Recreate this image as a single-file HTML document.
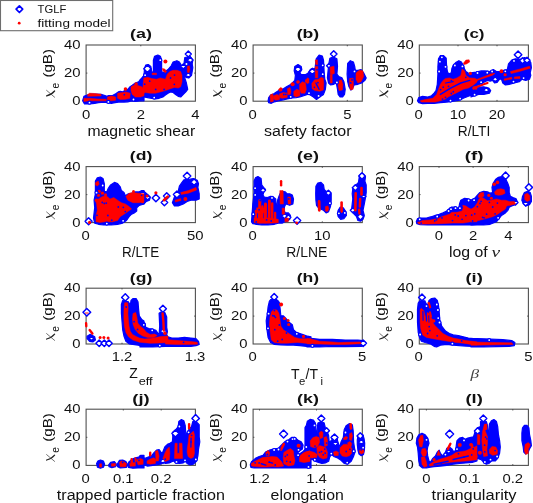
<!DOCTYPE html>
<html><head><meta charset="utf-8"><style>
html,body{margin:0;padding:0;background:#fff;overflow:hidden;}
svg{display:block;will-change:transform;}
text{font-family:"Liberation Sans", sans-serif;fill:#111;}
</style></head><body>
<svg width="533" height="503" viewBox="0 0 533 503">
<rect width="533" height="503" fill="#fff"/>
<rect x="86.1" y="45.0" width="109.30" height="56.20" fill="none" stroke="#505050" stroke-width="1.1"/>
<text x="80.50" y="49.00" font-size="13.3" text-anchor="end" textLength="16.54" lengthAdjust="spacingAndGlyphs">40</text>
<line x1="86.1" y1="73.10" x2="87.39999999999999" y2="73.10" stroke="#333" stroke-width="0.8"/>
<line x1="195.4" y1="73.10" x2="194.1" y2="73.10" stroke="#333" stroke-width="0.8"/>
<text x="80.50" y="77.10" font-size="13.3" text-anchor="end" textLength="16.54" lengthAdjust="spacingAndGlyphs">20</text>
<text x="80.50" y="105.20" font-size="13.3" text-anchor="end" textLength="8.27" lengthAdjust="spacingAndGlyphs">0</text>
<text x="86.20" y="118.50" font-size="13.3" text-anchor="middle" textLength="8.27" lengthAdjust="spacingAndGlyphs">0</text>
<line x1="140.8" y1="101.2" x2="140.8" y2="99.9" stroke="#333" stroke-width="0.8"/>
<line x1="140.8" y1="45.0" x2="140.8" y2="46.3" stroke="#333" stroke-width="0.8"/>
<text x="140.80" y="118.50" font-size="13.3" text-anchor="middle" textLength="8.27" lengthAdjust="spacingAndGlyphs">2</text>
<text x="195.40" y="118.50" font-size="13.3" text-anchor="middle" textLength="8.27" lengthAdjust="spacingAndGlyphs">4</text>
<text x="141.05" y="38.30" font-size="13.3" text-anchor="middle" font-weight="bold" textLength="21.93" lengthAdjust="spacingAndGlyphs">(a)</text>
<text transform="translate(51.60,77.60) rotate(-90)" font-size="13.3" textLength="28.6" lengthAdjust="spacingAndGlyphs">(gB)</text>
<text transform="translate(58.60,88.60) rotate(-90)" font-size="10.2">e</text>
<path d="M46.60,95.80 C49.50,95.20 52.50,93.60 54.60,91.00" fill="none" stroke="#222" stroke-width="1.25" stroke-linecap="round"/>
<path d="M46.60,90.40 L54.60,97.20" fill="none" stroke="#444" stroke-width="0.75" stroke-linecap="round"/>
<text x="141.30" y="135.70" font-size="14.0" text-anchor="middle" textLength="107.67" lengthAdjust="spacingAndGlyphs">magnetic shear</text>
<rect x="253.1" y="45.0" width="109.20" height="56.20" fill="none" stroke="#505050" stroke-width="1.1"/>
<text x="247.50" y="49.00" font-size="13.3" text-anchor="end" textLength="16.54" lengthAdjust="spacingAndGlyphs">40</text>
<line x1="253.1" y1="73.10" x2="254.4" y2="73.10" stroke="#333" stroke-width="0.8"/>
<line x1="362.3" y1="73.10" x2="361.0" y2="73.10" stroke="#333" stroke-width="0.8"/>
<text x="247.50" y="77.10" font-size="13.3" text-anchor="end" textLength="16.54" lengthAdjust="spacingAndGlyphs">20</text>
<text x="247.50" y="105.20" font-size="13.3" text-anchor="end" textLength="8.27" lengthAdjust="spacingAndGlyphs">0</text>
<text x="252.60" y="118.50" font-size="13.3" text-anchor="middle" textLength="8.27" lengthAdjust="spacingAndGlyphs">0</text>
<line x1="347.3" y1="101.2" x2="347.3" y2="99.9" stroke="#333" stroke-width="0.8"/>
<line x1="347.3" y1="45.0" x2="347.3" y2="46.3" stroke="#333" stroke-width="0.8"/>
<text x="347.30" y="118.50" font-size="13.3" text-anchor="middle" textLength="8.27" lengthAdjust="spacingAndGlyphs">5</text>
<text x="308.00" y="38.30" font-size="13.3" text-anchor="middle" font-weight="bold" textLength="22.49" lengthAdjust="spacingAndGlyphs">(b)</text>
<text transform="translate(218.60,77.60) rotate(-90)" font-size="13.3" textLength="28.6" lengthAdjust="spacingAndGlyphs">(gB)</text>
<text transform="translate(225.60,88.60) rotate(-90)" font-size="10.2">e</text>
<path d="M213.60,95.80 C216.50,95.20 219.50,93.60 221.60,91.00" fill="none" stroke="#222" stroke-width="1.25" stroke-linecap="round"/>
<path d="M213.60,90.40 L221.60,97.20" fill="none" stroke="#444" stroke-width="0.75" stroke-linecap="round"/>
<text x="307.80" y="135.70" font-size="14.0" text-anchor="middle" textLength="87.39" lengthAdjust="spacingAndGlyphs">safety factor</text>
<rect x="419.3" y="45.0" width="109.10" height="56.20" fill="none" stroke="#505050" stroke-width="1.1"/>
<text x="413.70" y="49.00" font-size="13.3" text-anchor="end" textLength="16.54" lengthAdjust="spacingAndGlyphs">40</text>
<line x1="419.3" y1="73.10" x2="420.6" y2="73.10" stroke="#333" stroke-width="0.8"/>
<line x1="528.4" y1="73.10" x2="527.1" y2="73.10" stroke="#333" stroke-width="0.8"/>
<text x="413.70" y="77.10" font-size="13.3" text-anchor="end" textLength="16.54" lengthAdjust="spacingAndGlyphs">20</text>
<text x="413.70" y="105.20" font-size="13.3" text-anchor="end" textLength="8.27" lengthAdjust="spacingAndGlyphs">0</text>
<text x="418.60" y="118.50" font-size="13.3" text-anchor="middle" textLength="8.27" lengthAdjust="spacingAndGlyphs">0</text>
<line x1="458.0" y1="101.2" x2="458.0" y2="99.9" stroke="#333" stroke-width="0.8"/>
<line x1="458.0" y1="45.0" x2="458.0" y2="46.3" stroke="#333" stroke-width="0.8"/>
<text x="458.00" y="118.50" font-size="13.3" text-anchor="middle" textLength="16.54" lengthAdjust="spacingAndGlyphs">10</text>
<line x1="497.0" y1="101.2" x2="497.0" y2="99.9" stroke="#333" stroke-width="0.8"/>
<line x1="497.0" y1="45.0" x2="497.0" y2="46.3" stroke="#333" stroke-width="0.8"/>
<text x="497.00" y="118.50" font-size="13.3" text-anchor="middle" textLength="16.54" lengthAdjust="spacingAndGlyphs">20</text>
<text x="474.15" y="38.30" font-size="13.3" text-anchor="middle" font-weight="bold" textLength="20.79" lengthAdjust="spacingAndGlyphs">(c)</text>
<text transform="translate(384.80,77.60) rotate(-90)" font-size="13.3" textLength="28.6" lengthAdjust="spacingAndGlyphs">(gB)</text>
<text transform="translate(391.80,88.60) rotate(-90)" font-size="10.2">e</text>
<path d="M379.80,95.80 C382.70,95.20 385.70,93.60 387.80,91.00" fill="none" stroke="#222" stroke-width="1.25" stroke-linecap="round"/>
<path d="M379.80,90.40 L387.80,97.20" fill="none" stroke="#444" stroke-width="0.75" stroke-linecap="round"/>
<text x="474.00" y="135.70" font-size="14.0" text-anchor="middle" textLength="32.53" lengthAdjust="spacingAndGlyphs">R/LTI</text>
<rect x="86.1" y="166.6" width="109.30" height="56.00" fill="none" stroke="#505050" stroke-width="1.1"/>
<text x="80.50" y="170.60" font-size="13.3" text-anchor="end" textLength="16.54" lengthAdjust="spacingAndGlyphs">40</text>
<line x1="86.1" y1="194.60" x2="87.39999999999999" y2="194.60" stroke="#333" stroke-width="0.8"/>
<line x1="195.4" y1="194.60" x2="194.1" y2="194.60" stroke="#333" stroke-width="0.8"/>
<text x="80.50" y="198.60" font-size="13.3" text-anchor="end" textLength="16.54" lengthAdjust="spacingAndGlyphs">20</text>
<text x="80.50" y="226.60" font-size="13.3" text-anchor="end" textLength="8.27" lengthAdjust="spacingAndGlyphs">0</text>
<text x="85.60" y="239.90" font-size="13.3" text-anchor="middle" textLength="8.27" lengthAdjust="spacingAndGlyphs">0</text>
<text x="195.30" y="239.90" font-size="13.3" text-anchor="middle" textLength="16.54" lengthAdjust="spacingAndGlyphs">50</text>
<text x="141.05" y="159.90" font-size="13.3" text-anchor="middle" font-weight="bold" textLength="22.49" lengthAdjust="spacingAndGlyphs">(d)</text>
<text transform="translate(51.60,199.20) rotate(-90)" font-size="13.3" textLength="28.6" lengthAdjust="spacingAndGlyphs">(gB)</text>
<text transform="translate(58.60,210.20) rotate(-90)" font-size="10.2">e</text>
<path d="M46.60,217.40 C49.50,216.80 52.50,215.20 54.60,212.60" fill="none" stroke="#222" stroke-width="1.25" stroke-linecap="round"/>
<path d="M46.60,212.00 L54.60,218.80" fill="none" stroke="#444" stroke-width="0.75" stroke-linecap="round"/>
<text x="140.60" y="257.10" font-size="14.0" text-anchor="middle" textLength="37.18" lengthAdjust="spacingAndGlyphs">R/LTE</text>
<rect x="253.1" y="166.6" width="109.20" height="56.00" fill="none" stroke="#505050" stroke-width="1.1"/>
<text x="247.50" y="170.60" font-size="13.3" text-anchor="end" textLength="16.54" lengthAdjust="spacingAndGlyphs">40</text>
<line x1="253.1" y1="194.60" x2="254.4" y2="194.60" stroke="#333" stroke-width="0.8"/>
<line x1="362.3" y1="194.60" x2="361.0" y2="194.60" stroke="#333" stroke-width="0.8"/>
<text x="247.50" y="198.60" font-size="13.3" text-anchor="end" textLength="16.54" lengthAdjust="spacingAndGlyphs">20</text>
<text x="247.50" y="226.60" font-size="13.3" text-anchor="end" textLength="8.27" lengthAdjust="spacingAndGlyphs">0</text>
<text x="252.60" y="239.90" font-size="13.3" text-anchor="middle" textLength="8.27" lengthAdjust="spacingAndGlyphs">0</text>
<line x1="322.3" y1="222.6" x2="322.3" y2="221.29999999999998" stroke="#333" stroke-width="0.8"/>
<line x1="322.3" y1="166.6" x2="322.3" y2="167.9" stroke="#333" stroke-width="0.8"/>
<text x="322.30" y="239.90" font-size="13.3" text-anchor="middle" textLength="16.54" lengthAdjust="spacingAndGlyphs">10</text>
<text x="308.00" y="159.90" font-size="13.3" text-anchor="middle" font-weight="bold" textLength="21.97" lengthAdjust="spacingAndGlyphs">(e)</text>
<text transform="translate(218.60,199.20) rotate(-90)" font-size="13.3" textLength="28.6" lengthAdjust="spacingAndGlyphs">(gB)</text>
<text transform="translate(225.60,210.20) rotate(-90)" font-size="10.2">e</text>
<path d="M213.60,217.40 C216.50,216.80 219.50,215.20 221.60,212.60" fill="none" stroke="#222" stroke-width="1.25" stroke-linecap="round"/>
<path d="M213.60,212.00 L221.60,218.80" fill="none" stroke="#444" stroke-width="0.75" stroke-linecap="round"/>
<text x="306.80" y="257.10" font-size="14.0" text-anchor="middle" textLength="40.97" lengthAdjust="spacingAndGlyphs">R/LNE</text>
<rect x="419.3" y="166.6" width="109.10" height="56.00" fill="none" stroke="#505050" stroke-width="1.1"/>
<text x="413.70" y="170.60" font-size="13.3" text-anchor="end" textLength="16.54" lengthAdjust="spacingAndGlyphs">40</text>
<line x1="419.3" y1="194.60" x2="420.6" y2="194.60" stroke="#333" stroke-width="0.8"/>
<line x1="528.4" y1="194.60" x2="527.1" y2="194.60" stroke="#333" stroke-width="0.8"/>
<text x="413.70" y="198.60" font-size="13.3" text-anchor="end" textLength="16.54" lengthAdjust="spacingAndGlyphs">20</text>
<text x="413.70" y="226.60" font-size="13.3" text-anchor="end" textLength="8.27" lengthAdjust="spacingAndGlyphs">0</text>
<line x1="439.0" y1="222.6" x2="439.0" y2="221.29999999999998" stroke="#333" stroke-width="0.8"/>
<line x1="439.0" y1="166.6" x2="439.0" y2="167.9" stroke="#333" stroke-width="0.8"/>
<text x="439.00" y="239.90" font-size="13.3" text-anchor="middle" textLength="8.27" lengthAdjust="spacingAndGlyphs">0</text>
<line x1="473.1" y1="222.6" x2="473.1" y2="221.29999999999998" stroke="#333" stroke-width="0.8"/>
<line x1="473.1" y1="166.6" x2="473.1" y2="167.9" stroke="#333" stroke-width="0.8"/>
<text x="473.10" y="239.90" font-size="13.3" text-anchor="middle" textLength="8.27" lengthAdjust="spacingAndGlyphs">2</text>
<line x1="508.3" y1="222.6" x2="508.3" y2="221.29999999999998" stroke="#333" stroke-width="0.8"/>
<line x1="508.3" y1="166.6" x2="508.3" y2="167.9" stroke="#333" stroke-width="0.8"/>
<text x="508.30" y="239.90" font-size="13.3" text-anchor="middle" textLength="8.27" lengthAdjust="spacingAndGlyphs">4</text>
<text x="474.15" y="159.90" font-size="13.3" text-anchor="middle" font-weight="bold" textLength="18.62" lengthAdjust="spacingAndGlyphs">(f)</text>
<text transform="translate(384.80,199.20) rotate(-90)" font-size="13.3" textLength="28.6" lengthAdjust="spacingAndGlyphs">(gB)</text>
<text transform="translate(391.80,210.20) rotate(-90)" font-size="10.2">e</text>
<path d="M379.80,217.40 C382.70,216.80 385.70,215.20 387.80,212.60" fill="none" stroke="#222" stroke-width="1.25" stroke-linecap="round"/>
<path d="M379.80,212.00 L387.80,218.80" fill="none" stroke="#444" stroke-width="0.75" stroke-linecap="round"/>
<text x="449.00" y="257.10" font-size="14.0" textLength="38.72" lengthAdjust="spacingAndGlyphs">log of</text>
<text x="491.40" y="257.10" font-size="14" font-style="italic" textLength="8.6" lengthAdjust="spacingAndGlyphs" style="font-family:'Liberation Serif',serif;fill:#222">ν</text>
<rect x="86.1" y="288.2" width="109.30" height="55.80" fill="none" stroke="#505050" stroke-width="1.1"/>
<text x="80.50" y="292.20" font-size="13.3" text-anchor="end" textLength="16.54" lengthAdjust="spacingAndGlyphs">40</text>
<line x1="86.1" y1="316.10" x2="87.39999999999999" y2="316.10" stroke="#333" stroke-width="0.8"/>
<line x1="195.4" y1="316.10" x2="194.1" y2="316.10" stroke="#333" stroke-width="0.8"/>
<text x="80.50" y="320.10" font-size="13.3" text-anchor="end" textLength="16.54" lengthAdjust="spacingAndGlyphs">20</text>
<text x="80.50" y="348.00" font-size="13.3" text-anchor="end" textLength="8.27" lengthAdjust="spacingAndGlyphs">0</text>
<line x1="122.0" y1="344.0" x2="122.0" y2="342.7" stroke="#333" stroke-width="0.8"/>
<line x1="122.0" y1="288.2" x2="122.0" y2="289.5" stroke="#333" stroke-width="0.8"/>
<text x="122.00" y="361.30" font-size="13.3" text-anchor="middle" textLength="20.67" lengthAdjust="spacingAndGlyphs">1.2</text>
<text x="195.00" y="361.30" font-size="13.3" text-anchor="middle" textLength="20.67" lengthAdjust="spacingAndGlyphs">1.3</text>
<text x="141.05" y="281.50" font-size="13.3" text-anchor="middle" font-weight="bold" textLength="22.49" lengthAdjust="spacingAndGlyphs">(g)</text>
<text transform="translate(51.60,320.80) rotate(-90)" font-size="13.3" textLength="28.6" lengthAdjust="spacingAndGlyphs">(gB)</text>
<text transform="translate(58.60,331.80) rotate(-90)" font-size="10.2">e</text>
<path d="M46.60,339.00 C49.50,338.40 52.50,336.80 54.60,334.20" fill="none" stroke="#222" stroke-width="1.25" stroke-linecap="round"/>
<path d="M46.60,333.60 L54.60,340.40" fill="none" stroke="#444" stroke-width="0.75" stroke-linecap="round"/>
<text x="129.30" y="377.90" font-size="14.0">Z</text>
<text x="138.70" y="384.50" font-size="11.4" textLength="13.9" lengthAdjust="spacingAndGlyphs">eff</text>
<rect x="253.1" y="288.2" width="109.20" height="55.80" fill="none" stroke="#505050" stroke-width="1.1"/>
<text x="247.50" y="292.20" font-size="13.3" text-anchor="end" textLength="16.54" lengthAdjust="spacingAndGlyphs">40</text>
<line x1="253.1" y1="316.10" x2="254.4" y2="316.10" stroke="#333" stroke-width="0.8"/>
<line x1="362.3" y1="316.10" x2="361.0" y2="316.10" stroke="#333" stroke-width="0.8"/>
<text x="247.50" y="320.10" font-size="13.3" text-anchor="end" textLength="16.54" lengthAdjust="spacingAndGlyphs">20</text>
<text x="247.50" y="348.00" font-size="13.3" text-anchor="end" textLength="8.27" lengthAdjust="spacingAndGlyphs">0</text>
<text x="252.60" y="361.30" font-size="13.3" text-anchor="middle" textLength="8.27" lengthAdjust="spacingAndGlyphs">0</text>
<text x="362.20" y="361.30" font-size="13.3" text-anchor="middle" textLength="8.27" lengthAdjust="spacingAndGlyphs">5</text>
<text x="308.00" y="281.50" font-size="13.3" text-anchor="middle" font-weight="bold" textLength="22.44" lengthAdjust="spacingAndGlyphs">(h)</text>
<text transform="translate(218.60,320.80) rotate(-90)" font-size="13.3" textLength="28.6" lengthAdjust="spacingAndGlyphs">(gB)</text>
<text transform="translate(225.60,331.80) rotate(-90)" font-size="10.2">e</text>
<path d="M213.60,339.00 C216.50,338.40 219.50,336.80 221.60,334.20" fill="none" stroke="#222" stroke-width="1.25" stroke-linecap="round"/>
<path d="M213.60,333.60 L221.60,340.40" fill="none" stroke="#444" stroke-width="0.75" stroke-linecap="round"/>
<text x="291.00" y="378.50" font-size="14.0">T</text>
<text x="299.10" y="384.50" font-size="11.3">e</text>
<text x="305.60" y="378.50" font-size="14.0">/T</text>
<text x="320.40" y="384.50" font-size="11.3">i</text>
<rect x="419.3" y="288.2" width="109.10" height="55.80" fill="none" stroke="#505050" stroke-width="1.1"/>
<text x="413.70" y="292.20" font-size="13.3" text-anchor="end" textLength="16.54" lengthAdjust="spacingAndGlyphs">40</text>
<line x1="419.3" y1="316.10" x2="420.6" y2="316.10" stroke="#333" stroke-width="0.8"/>
<line x1="528.4" y1="316.10" x2="527.1" y2="316.10" stroke="#333" stroke-width="0.8"/>
<text x="413.70" y="320.10" font-size="13.3" text-anchor="end" textLength="16.54" lengthAdjust="spacingAndGlyphs">20</text>
<text x="413.70" y="348.00" font-size="13.3" text-anchor="end" textLength="8.27" lengthAdjust="spacingAndGlyphs">0</text>
<text x="418.60" y="361.30" font-size="13.3" text-anchor="middle" textLength="8.27" lengthAdjust="spacingAndGlyphs">0</text>
<text x="528.40" y="361.30" font-size="13.3" text-anchor="middle" textLength="8.27" lengthAdjust="spacingAndGlyphs">5</text>
<text x="474.15" y="281.50" font-size="13.3" text-anchor="middle" font-weight="bold" textLength="17.34" lengthAdjust="spacingAndGlyphs">(i)</text>
<text transform="translate(384.80,320.80) rotate(-90)" font-size="13.3" textLength="28.6" lengthAdjust="spacingAndGlyphs">(gB)</text>
<text transform="translate(391.80,331.80) rotate(-90)" font-size="10.2">e</text>
<path d="M379.80,339.00 C382.70,338.40 385.70,336.80 387.80,334.20" fill="none" stroke="#222" stroke-width="1.25" stroke-linecap="round"/>
<path d="M379.80,333.60 L387.80,340.40" fill="none" stroke="#444" stroke-width="0.75" stroke-linecap="round"/>
<text x="474.90" y="377.80" font-size="13.5" text-anchor="middle" font-style="italic" textLength="8.6" lengthAdjust="spacingAndGlyphs" style="font-family:'Liberation Serif',serif;fill:#444">β</text>
<rect x="86.1" y="409.2" width="109.30" height="56.20" fill="none" stroke="#505050" stroke-width="1.1"/>
<text x="80.50" y="413.20" font-size="13.3" text-anchor="end" textLength="16.54" lengthAdjust="spacingAndGlyphs">40</text>
<line x1="86.1" y1="437.30" x2="87.39999999999999" y2="437.30" stroke="#333" stroke-width="0.8"/>
<line x1="195.4" y1="437.30" x2="194.1" y2="437.30" stroke="#333" stroke-width="0.8"/>
<text x="80.50" y="441.30" font-size="13.3" text-anchor="end" textLength="16.54" lengthAdjust="spacingAndGlyphs">20</text>
<text x="80.50" y="469.40" font-size="13.3" text-anchor="end" textLength="8.27" lengthAdjust="spacingAndGlyphs">0</text>
<text x="85.70" y="482.70" font-size="13.3" text-anchor="middle" textLength="8.27" lengthAdjust="spacingAndGlyphs">0</text>
<line x1="123.3" y1="465.4" x2="123.3" y2="464.09999999999997" stroke="#333" stroke-width="0.8"/>
<line x1="123.3" y1="409.2" x2="123.3" y2="410.5" stroke="#333" stroke-width="0.8"/>
<text x="123.30" y="482.70" font-size="13.3" text-anchor="middle" textLength="20.67" lengthAdjust="spacingAndGlyphs">0.1</text>
<line x1="161.2" y1="465.4" x2="161.2" y2="464.09999999999997" stroke="#333" stroke-width="0.8"/>
<line x1="161.2" y1="409.2" x2="161.2" y2="410.5" stroke="#333" stroke-width="0.8"/>
<text x="161.20" y="482.70" font-size="13.3" text-anchor="middle" textLength="20.67" lengthAdjust="spacingAndGlyphs">0.2</text>
<text x="141.05" y="402.50" font-size="13.3" text-anchor="middle" font-weight="bold" textLength="17.34" lengthAdjust="spacingAndGlyphs">(j)</text>
<text transform="translate(51.60,441.80) rotate(-90)" font-size="13.3" textLength="28.6" lengthAdjust="spacingAndGlyphs">(gB)</text>
<text transform="translate(58.60,452.80) rotate(-90)" font-size="10.2">e</text>
<path d="M46.60,460.00 C49.50,459.40 52.50,457.80 54.60,455.20" fill="none" stroke="#222" stroke-width="1.25" stroke-linecap="round"/>
<path d="M46.60,454.60 L54.60,461.40" fill="none" stroke="#444" stroke-width="0.75" stroke-linecap="round"/>
<text x="140.90" y="499.90" font-size="14.0" text-anchor="middle" textLength="168.14" lengthAdjust="spacingAndGlyphs">trapped particle fraction</text>
<rect x="253.1" y="409.2" width="109.20" height="56.20" fill="none" stroke="#505050" stroke-width="1.1"/>
<text x="247.50" y="413.20" font-size="13.3" text-anchor="end" textLength="16.54" lengthAdjust="spacingAndGlyphs">40</text>
<line x1="253.1" y1="437.30" x2="254.4" y2="437.30" stroke="#333" stroke-width="0.8"/>
<line x1="362.3" y1="437.30" x2="361.0" y2="437.30" stroke="#333" stroke-width="0.8"/>
<text x="247.50" y="441.30" font-size="13.3" text-anchor="end" textLength="16.54" lengthAdjust="spacingAndGlyphs">20</text>
<text x="247.50" y="469.40" font-size="13.3" text-anchor="end" textLength="8.27" lengthAdjust="spacingAndGlyphs">0</text>
<line x1="259.5" y1="465.4" x2="259.5" y2="464.09999999999997" stroke="#333" stroke-width="0.8"/>
<line x1="259.5" y1="409.2" x2="259.5" y2="410.5" stroke="#333" stroke-width="0.8"/>
<text x="259.50" y="482.70" font-size="13.3" text-anchor="middle" textLength="20.67" lengthAdjust="spacingAndGlyphs">1.2</text>
<line x1="316.5" y1="465.4" x2="316.5" y2="464.09999999999997" stroke="#333" stroke-width="0.8"/>
<line x1="316.5" y1="409.2" x2="316.5" y2="410.5" stroke="#333" stroke-width="0.8"/>
<text x="316.50" y="482.70" font-size="13.3" text-anchor="middle" textLength="20.67" lengthAdjust="spacingAndGlyphs">1.4</text>
<text x="308.00" y="402.50" font-size="13.3" text-anchor="middle" font-weight="bold" textLength="21.79" lengthAdjust="spacingAndGlyphs">(k)</text>
<text transform="translate(218.60,441.80) rotate(-90)" font-size="13.3" textLength="28.6" lengthAdjust="spacingAndGlyphs">(gB)</text>
<text transform="translate(225.60,452.80) rotate(-90)" font-size="10.2">e</text>
<path d="M213.60,460.00 C216.50,459.40 219.50,457.80 221.60,455.20" fill="none" stroke="#222" stroke-width="1.25" stroke-linecap="round"/>
<path d="M213.60,454.60 L221.60,461.40" fill="none" stroke="#444" stroke-width="0.75" stroke-linecap="round"/>
<text x="307.20" y="499.90" font-size="14.0" text-anchor="middle" textLength="73.16" lengthAdjust="spacingAndGlyphs">elongation</text>
<rect x="419.3" y="409.2" width="109.10" height="56.20" fill="none" stroke="#505050" stroke-width="1.1"/>
<text x="413.70" y="413.20" font-size="13.3" text-anchor="end" textLength="16.54" lengthAdjust="spacingAndGlyphs">40</text>
<line x1="419.3" y1="437.30" x2="420.6" y2="437.30" stroke="#333" stroke-width="0.8"/>
<line x1="528.4" y1="437.30" x2="527.1" y2="437.30" stroke="#333" stroke-width="0.8"/>
<text x="413.70" y="441.30" font-size="13.3" text-anchor="end" textLength="16.54" lengthAdjust="spacingAndGlyphs">20</text>
<text x="413.70" y="469.40" font-size="13.3" text-anchor="end" textLength="8.27" lengthAdjust="spacingAndGlyphs">0</text>
<line x1="426.4" y1="465.4" x2="426.4" y2="464.09999999999997" stroke="#333" stroke-width="0.8"/>
<line x1="426.4" y1="409.2" x2="426.4" y2="410.5" stroke="#333" stroke-width="0.8"/>
<text x="426.40" y="482.70" font-size="13.3" text-anchor="middle" textLength="8.27" lengthAdjust="spacingAndGlyphs">0</text>
<line x1="469.4" y1="465.4" x2="469.4" y2="464.09999999999997" stroke="#333" stroke-width="0.8"/>
<line x1="469.4" y1="409.2" x2="469.4" y2="410.5" stroke="#333" stroke-width="0.8"/>
<text x="469.40" y="482.70" font-size="13.3" text-anchor="middle" textLength="20.67" lengthAdjust="spacingAndGlyphs">0.1</text>
<line x1="512.8" y1="465.4" x2="512.8" y2="464.09999999999997" stroke="#333" stroke-width="0.8"/>
<line x1="512.8" y1="409.2" x2="512.8" y2="410.5" stroke="#333" stroke-width="0.8"/>
<text x="512.80" y="482.70" font-size="13.3" text-anchor="middle" textLength="20.67" lengthAdjust="spacingAndGlyphs">0.2</text>
<text x="474.15" y="402.50" font-size="13.3" text-anchor="middle" font-weight="bold" textLength="17.34" lengthAdjust="spacingAndGlyphs">(l)</text>
<text transform="translate(384.80,441.80) rotate(-90)" font-size="13.3" textLength="28.6" lengthAdjust="spacingAndGlyphs">(gB)</text>
<text transform="translate(391.80,452.80) rotate(-90)" font-size="10.2">e</text>
<path d="M379.80,460.00 C382.70,459.40 385.70,457.80 387.80,455.20" fill="none" stroke="#222" stroke-width="1.25" stroke-linecap="round"/>
<path d="M379.80,454.60 L387.80,461.40" fill="none" stroke="#444" stroke-width="0.75" stroke-linecap="round"/>
<text x="474.10" y="499.90" font-size="14.0" text-anchor="middle" textLength="85.00" lengthAdjust="spacingAndGlyphs">triangularity</text>
<path d="M82.6,100.8 L83.9,96.3 L87.1,95.1 L89.6,94.2 L94.7,94.2 L101.1,94.4 L104.9,95.5 L106.8,96.3 L108.7,95.5 L112.5,95.5 L115.7,93.8 L118.3,91.9 L120.2,91.3 L122.7,91.9 L125.3,90.0 L127.8,89.3 L129.7,87.1 L132.3,85.3 L135.4,83.0 L138.6,81.7 L141.2,79.2 L144.0,76.0 L144.0,100.8 L140.5,100.8 L135.4,101.4 L131.6,100.8 L127.8,101.8 L124.0,102.1 L120.2,101.8 L115.1,102.7 L111.3,103.3 L107.4,102.7 L103.6,102.1 L98.5,102.7 L94.7,103.3 L89.6,104.0 L84.5,104.0Z" fill="#0000ff" stroke="#0000ff" stroke-width="1.2" stroke-linejoin="round"/>
<path d="M140.0,79.8 L141.9,77.9 L143.6,76.0 L144.2,72.8 L144.5,68.4 L145.7,65.2 L148.3,64.5 L150.8,66.4 L151.5,70.3 L152.1,72.8 L153.4,71.5 L153.4,60.1 L154.6,56.3 L157.8,55.0 L160.4,56.3 L161.6,60.1 L161.6,71.5 L163.5,72.8 L168.0,69.6 L171.2,65.8 L173.1,62.0 L176.9,60.7 L179.4,62.0 L181.4,65.2 L183.3,66.4 L183.9,71.5 L184.5,74.1 L184.8,77.9 L186.4,83.0 L187.7,89.3 L185.8,91.9 L183.3,94.4 L180.7,97.0 L178.2,96.3 L175.6,94.4 L173.1,92.5 L170.5,91.9 L168.0,93.2 L165.4,95.1 L162.9,97.0 L159.1,98.3 L155.3,98.9 L151.5,98.3 L147.6,97.6 L143.8,97.0 L140.0,97.0Z" fill="#0000ff" stroke="#0000ff" stroke-width="1.2" stroke-linejoin="round"/>
<path d="M184.8,57.5 L190.3,56.5 L192.8,60.1 L192.2,63.9 L192.8,67.7 L192.2,71.5 L191.5,75.4 L189.0,77.9 L185.8,77.3 L184.3,74.1 L183.9,70.3 L183.6,66.4 L184.3,61.4Z" fill="#0000ff" stroke="#0000ff" stroke-width="1.2" stroke-linejoin="round"/>
<path d="M147.4,65.1L151.0,68.7L147.4,72.4L143.8,68.7Z" fill="#fff" stroke="#0000ff" stroke-width="1.45" stroke-linejoin="round"/>
<path d="M190.3,57.3L193.0,60.1L190.3,62.8L187.5,60.1Z" fill="#fff" stroke="#0000ff" stroke-width="1.45" stroke-linejoin="round"/>
<path d="M186.4,61.7L188.7,63.9L186.4,66.2L184.2,63.9Z" fill="#fff" stroke="#0000ff" stroke-width="1.45" stroke-linejoin="round"/>
<path d="M188.3,51.1L191.3,54.1L188.3,57.1L185.3,54.1Z" fill="#fff" stroke="#0000ff" stroke-width="1.45" stroke-linejoin="round"/>
<path d="M188.3,72.6L190.8,75.1L188.3,77.6L185.8,75.1Z" fill="#fff" stroke="#0000ff" stroke-width="1.45" stroke-linejoin="round"/>
<path d="M183.3,63.9L185.8,66.4L183.3,68.9L180.8,66.4Z" fill="#fff" stroke="#0000ff" stroke-width="1.45" stroke-linejoin="round"/>
<path d="M87.7,94.4 L89.6,93.2 L94.7,93.5 L101.1,94.2 L101.1,96.0 L87.7,96.3Z" fill="#ff0000" stroke="#ff0000" stroke-width="0.5" stroke-linejoin="round"/>
<path d="M83.9,98.3 L89.6,98.3 L97.3,98.9 L106.2,99.3 L106.2,100.8 L89.6,100.8 L83.9,101.4Z" fill="#ff0000" stroke="#ff0000" stroke-width="0.5" stroke-linejoin="round"/>
<path d="M107.4,97.0 L111.3,96.0 L115.7,97.0 L115.7,100.2 L111.3,100.8 L107.4,100.2Z" fill="#ff0000" stroke="#ff0000" stroke-width="0.5" stroke-linejoin="round"/>
<path d="M117.6,93.2 L122.7,92.5 L125.9,91.9 L130.3,93.2 L129.7,98.3 L125.3,99.3 L120.2,99.5 L117.6,98.3Z" fill="#ff0000" stroke="#ff0000" stroke-width="0.5" stroke-linejoin="round"/>
<circle cx="125.5" cy="89.1" r="1.8" fill="#ff0000"/>
<path d="M131.0,86.8 L134.2,84.9 L138.0,85.5 L141.8,86.8 L144.0,89.3 L144.0,95.7 L140.5,97.0 L135.4,97.0 L132.3,94.4 L131.0,90.6Z" fill="#ff0000" stroke="#ff0000" stroke-width="0.5" stroke-linejoin="round"/>
<circle cx="136.1" cy="84.0" r="1.8" fill="#ff0000"/>
<path d="M140.0,94.4 L142.5,91.3 L143.8,77.9 L147.6,77.3 L151.5,78.5 L156.5,79.2 L160.4,77.9 L165.4,79.2 L167.4,74.1 L169.9,71.5 L173.1,70.3 L176.9,70.3 L180.7,71.5 L182.0,75.4 L182.0,81.7 L180.7,86.8 L178.2,88.1 L174.4,87.4 L170.5,88.7 L165.4,90.6 L160.4,91.9 L155.3,93.2 L150.2,93.2 L145.1,92.5 L142.5,94.4Z" fill="#ff0000" stroke="#ff0000" stroke-width="0.5" stroke-linejoin="round"/>
<circle cx="165.4" cy="61.6" r="2.0" fill="#ff0000"/>
<path d="M152.1,73.1 L156.5,73.1 L156.5,74.7 L152.1,74.7Z" fill="#ff0000" stroke="#ff0000" stroke-width="0.5" stroke-linejoin="round"/>
<path d="M162.3,68.4 L164.8,69.0 L166.7,71.5 L165.4,72.8 L162.9,70.9Z" fill="#ff0000" stroke="#ff0000" stroke-width="0.5" stroke-linejoin="round"/>
<path d="M187.3,66.4 L189.4,65.8 L189.9,69.6 L189.0,72.8 L187.3,72.2Z" fill="#ff0000" stroke="#ff0000" stroke-width="0.5" stroke-linejoin="round"/>
<path d="M268.1,100.8 L268.7,97.6 L270.6,95.1 L273.8,93.8 L276.4,91.9 L279.5,90.0 L283.4,88.7 L286.5,86.8 L289.7,84.9 L292.3,83.0 L294.8,80.4 L295.4,75.4 L294.2,70.9 L294.8,66.4 L298.0,64.5 L301.2,66.4 L301.8,69.6 L299.9,72.8 L301.2,74.7 L305.0,74.7 L308.2,73.4 L309.4,70.9 L311.0,69.6 L311.0,91.9 L307.5,94.4 L303.7,95.7 L299.9,97.0 L296.1,97.6 L292.3,98.0 L287.2,98.9 L283.4,99.8 L278.3,100.8 L274.4,101.8 L271.3,103.3 L268.7,102.7Z" fill="#0000ff" stroke="#0000ff" stroke-width="1.2" stroke-linejoin="round"/>
<path d="M307.0,74.1 L309.5,71.5 L310.2,69.6 L312.7,68.4 L314.9,69.6 L315.3,66.4 L316.2,58.8 L319.1,55.0 L322.3,56.0 L323.5,60.1 L324.2,72.8 L324.8,79.2 L326.1,83.0 L325.4,89.3 L323.5,94.4 L319.7,97.0 L316.5,99.5 L313.4,97.0 L309.5,94.4 L307.0,93.2Z" fill="#0000ff" stroke="#0000ff" stroke-width="1.2" stroke-linejoin="round"/>
<path d="M328.6,65.2 L329.9,58.2 L333.1,56.9 L336.9,58.8 L337.5,66.4 L336.9,74.1 L338.8,76.6 L342.0,77.9 L343.9,81.7 L345.2,89.3 L344.5,94.4 L342.6,97.0 L340.1,97.0 L338.2,94.4 L337.5,89.3 L336.3,83.0 L333.7,84.3 L330.5,84.9 L328.6,83.0 L327.4,77.9 L328.0,71.5Z" fill="#0000ff" stroke="#0000ff" stroke-width="1.2" stroke-linejoin="round"/>
<path d="M347.7,63.3 L350.3,60.7 L353.4,62.0 L354.7,66.4 L355.3,70.3 L357.9,70.3 L361.1,69.6 L363.6,72.8 L366.2,77.9 L364.9,80.4 L361.7,83.0 L357.9,84.3 L354.1,84.9 L352.8,88.1 L350.9,90.0 L349.0,86.8 L347.7,81.7 L347.1,74.1Z" fill="#0000ff" stroke="#0000ff" stroke-width="1.2" stroke-linejoin="round"/>
<path d="M298.0,66.0L301.2,69.2L298.0,72.5L294.7,69.2Z" fill="#fff" stroke="#0000ff" stroke-width="1.45" stroke-linejoin="round"/>
<path d="M312.3,68.5L315.3,71.5L312.3,74.5L309.3,71.5Z" fill="#fff" stroke="#0000ff" stroke-width="1.45" stroke-linejoin="round"/>
<path d="M333.7,50.7L337.0,54.0L333.7,57.2L330.5,54.0Z" fill="#fff" stroke="#0000ff" stroke-width="1.45" stroke-linejoin="round"/>
<path d="M328.9,63.6L331.1,65.8L328.9,68.1L326.6,65.8Z" fill="#fff" stroke="#0000ff" stroke-width="1.45" stroke-linejoin="round"/>
<path d="M270.0,95.1 L272.5,93.8 L273.8,97.0 L273.2,101.4 L270.6,102.1Z" fill="#ff0000" stroke="#ff0000" stroke-width="0.5" stroke-linejoin="round"/>
<path d="M273.8,95.7 L277.0,94.4 L279.5,95.7 L279.5,99.5 L275.7,100.2 L273.8,98.9Z" fill="#ff0000" stroke="#ff0000" stroke-width="0.5" stroke-linejoin="round"/>
<path d="M278.5,89.3 L280.6,87.4 L282.3,88.3 L281.8,90.9 L279.3,91.3Z" fill="#ff0000" stroke="#ff0000" stroke-width="0.5" stroke-linejoin="round"/>
<path d="M279.5,93.8 L283.4,92.5 L287.2,93.2 L287.2,97.6 L282.1,98.3 L279.5,97.6Z" fill="#ff0000" stroke="#ff0000" stroke-width="0.5" stroke-linejoin="round"/>
<path d="M287.4,88.7 L290.0,87.4 L291.0,91.3 L290.4,94.4 L287.8,94.4Z" fill="#ff0000" stroke="#ff0000" stroke-width="0.5" stroke-linejoin="round"/>
<circle cx="292.6" cy="84.3" r="2.0" fill="#ff0000"/>
<path d="M293.8,91.3 L296.7,89.3 L299.9,90.6 L299.9,95.7 L296.1,97.0 L293.8,95.7Z" fill="#ff0000" stroke="#ff0000" stroke-width="0.5" stroke-linejoin="round"/>
<circle cx="298.0" cy="82.0" r="1.8" fill="#ff0000"/>
<path d="M299.6,84.3 L302.4,81.7 L305.6,83.0 L306.3,89.3 L305.0,93.2 L301.2,93.2 L299.6,89.3Z" fill="#ff0000" stroke="#ff0000" stroke-width="0.5" stroke-linejoin="round"/>
<circle cx="306.9" cy="81.1" r="2.0" fill="#ff0000"/>
<path d="M315.3,60.1 L317.4,59.8 L317.8,64.5 L315.7,64.5Z" fill="#ff0000" stroke="#ff0000" stroke-width="0.5" stroke-linejoin="round"/>
<path d="M315.3,66.4 L317.8,66.4 L317.8,77.9 L315.3,77.9Z" fill="#ff0000" stroke="#ff0000" stroke-width="0.5" stroke-linejoin="round"/>
<path d="M311.8,83.6 L314.6,79.8 L318.5,79.2 L321.3,77.3 L323.3,78.2 L323.8,83.6 L323.3,90.0 L319.7,91.3 L314.9,90.6 L312.1,88.7Z" fill="#ff0000" stroke="#ff0000" stroke-width="0.5" stroke-linejoin="round"/>
<path d="M307.0,77.9 L308.9,78.5 L308.9,83.0 L307.0,83.6Z" fill="#ff0000" stroke="#ff0000" stroke-width="0.5" stroke-linejoin="round"/>
<path d="M330.2,67.1 L334.0,66.2 L334.4,73.4 L332.4,74.3 L330.2,73.4Z" fill="#ff0000" stroke="#ff0000" stroke-width="0.5" stroke-linejoin="round"/>
<path d="M330.2,74.3 L332.2,74.3 L332.2,83.0 L330.2,83.0Z" fill="#ff0000" stroke="#ff0000" stroke-width="0.5" stroke-linejoin="round"/>
<path d="M338.6,81.1 L341.4,79.8 L342.9,84.3 L342.4,90.0 L339.1,90.6 L338.2,85.5Z" fill="#ff0000" stroke="#ff0000" stroke-width="0.5" stroke-linejoin="round"/>
<path d="M349.6,78.5 L353.1,78.2 L353.4,84.3 L353.1,89.3 L350.3,90.0 L349.6,84.3Z" fill="#ff0000" stroke="#ff0000" stroke-width="0.5" stroke-linejoin="round"/>
<path d="M356.0,72.8 L359.8,70.0 L363.0,70.9 L363.6,76.6 L361.1,81.7 L357.9,83.0 L356.0,79.2Z" fill="#ff0000" stroke="#ff0000" stroke-width="0.5" stroke-linejoin="round"/>
<path d="M315.9,83.0 L319.1,89.3" fill="none" stroke="#0000ff" stroke-width="1.4" stroke-linejoin="round" stroke-linecap="round"/>
<path d="M417.5,100.8 L418.8,97.6 L422.6,96.3 L427.7,97.0 L431.5,95.7 L434.1,93.2 L436.0,90.6 L437.3,84.3 L437.9,74.1 L437.9,66.4 L438.5,58.8 L440.4,55.6 L443.6,55.6 L446.2,58.2 L446.6,66.4 L447.4,71.5 L448.7,74.1 L451.3,72.8 L451.9,68.4 L453.2,65.2 L455.7,62.6 L458.9,60.7 L461.4,62.0 L463.3,65.2 L464.6,69.0 L465.9,71.5 L469.7,74.1 L473.5,74.1 L477.0,73.4 L477.0,91.9 L473.5,94.4 L468.4,96.3 L463.3,98.3 L459.5,100.2 L455.7,100.8 L451.9,101.4 L446.8,102.1 L440.4,102.7 L434.1,103.3 L427.7,103.3 L422.6,103.6 L418.8,102.7Z" fill="#0000ff" stroke="#0000ff" stroke-width="1.2" stroke-linejoin="round"/>
<path d="M471.0,72.8 L476.1,72.2 L481.2,70.9 L485.0,70.9 L490.1,71.5 L493.3,69.6 L496.4,71.5 L500.3,71.5 L504.1,70.3 L507.3,69.6 L508.5,63.9 L511.7,60.1 L515.5,58.8 L520.6,59.4 L524.4,57.5 L528.3,58.8 L530.8,62.6 L531.4,67.7 L530.2,72.8 L530.8,75.4 L529.5,79.2 L525.7,80.4 L521.9,79.2 L519.3,81.7 L514.3,83.0 L509.2,84.3 L505.4,84.9 L502.8,83.0 L501.5,79.2 L499.6,79.2 L497.1,82.4 L494.5,83.0 L492.6,80.4 L490.1,81.1 L487.5,80.4 L485.0,81.7 L482.5,83.0 L478.6,84.9 L476.1,85.5 L473.5,87.4 L471.0,89.3Z" fill="#0000ff" stroke="#0000ff" stroke-width="1.2" stroke-linejoin="round"/>
<path d="M471.0,88.1 L476.1,87.4 L483.7,86.8 L488.8,88.1 L490.7,90.6 L489.4,93.2 L483.7,94.4 L478.6,94.4 L474.8,95.7 L471.0,97.0Z" fill="#0000ff" stroke="#0000ff" stroke-width="1.2" stroke-linejoin="round"/>
<path d="M518.1,51.0L521.8,54.7L518.1,58.5L514.3,54.7Z" fill="#fff" stroke="#0000ff" stroke-width="1.45" stroke-linejoin="round"/>
<path d="M522.5,57.7L525.5,60.7L522.5,63.7L519.5,60.7Z" fill="#fff" stroke="#0000ff" stroke-width="1.45" stroke-linejoin="round"/>
<path d="M527.0,57.3L530.0,60.3L527.0,63.3L524.0,60.3Z" fill="#fff" stroke="#0000ff" stroke-width="1.45" stroke-linejoin="round"/>
<path d="M495.2,76.7L497.7,79.2L495.2,81.7L492.7,79.2Z" fill="#fff" stroke="#0000ff" stroke-width="1.45" stroke-linejoin="round"/>
<path d="M486.3,87.5L488.8,90.0L486.3,92.5L483.8,90.0Z" fill="#fff" stroke="#0000ff" stroke-width="1.45" stroke-linejoin="round"/>
<path d="M420.1,100.8 L425.2,99.5 L432.8,98.3 L436.6,94.4 L438.5,89.3 L440.4,84.3 L443.0,80.4 L445.5,78.5 L449.4,77.9 L453.2,79.2 L457.0,77.9 L460.8,75.4 L462.1,69.0 L464.6,70.9 L465.9,75.4 L469.7,77.9 L474.8,78.2 L477.0,79.6 L477.0,82.0 L473.5,84.9 L468.4,88.1 L463.3,89.3 L458.3,91.9 L453.2,94.4 L448.1,97.0 L445.5,98.9 L440.4,100.8 L435.4,102.1 L427.7,102.1 L421.4,102.1Z" fill="#ff0000" stroke="#ff0000" stroke-width="0.5" stroke-linejoin="round"/>
<path d="M463.3,63.3 L465.9,60.1 L469.1,59.8 L469.7,62.0 L466.5,63.9 L464.0,64.5Z" fill="#ff0000" stroke="#ff0000" stroke-width="0.5" stroke-linejoin="round"/>
<circle cx="470.3" cy="73.4" r="1.6" fill="#ff0000"/>
<path d="M472.9,86.8 L477.0,86.2 L477.0,89.3 L472.9,89.3Z" fill="#ff0000" stroke="#ff0000" stroke-width="0.5" stroke-linejoin="round"/>
<path d="M471.0,82.0 L478.6,78.7 L486.3,75.7 L492.6,73.1 L494.9,73.6 L492.6,75.2 L486.3,77.4 L478.6,79.9 L471.0,83.8Z" fill="#ff0000" stroke="#ff0000" stroke-width="0.5" stroke-linejoin="round"/>
<circle cx="501.5" cy="71.3" r="2.0" fill="#ff0000"/>
<circle cx="505.1" cy="74.7" r="1.6" fill="#ff0000"/>
<path d="M504.1,78.9 L511.7,77.3 L512.0,78.9 L504.3,80.4Z" fill="#ff0000" stroke="#ff0000" stroke-width="0.5" stroke-linejoin="round"/>
<path d="M510.4,71.5 L519.3,69.2 L529.5,66.2 L530.3,68.2 L519.3,71.5 L511.1,73.6Z" fill="#ff0000" stroke="#ff0000" stroke-width="0.5" stroke-linejoin="round"/>
<path d="M514.3,76.9 L520.0,76.6 L520.0,78.5 L514.3,78.7Z" fill="#ff0000" stroke="#ff0000" stroke-width="0.5" stroke-linejoin="round"/>
<path d="M473.5,88.3 L478.6,86.2 L483.7,84.3 L487.5,83.0" fill="none" stroke="#ff0000" stroke-width="2.2" stroke-linejoin="round" stroke-linecap="round"/>
<path d="M440.4,94.4 L450.6,88.1 L460.8,83.0 L469.7,80.4" fill="none" stroke="#0000ff" stroke-width="1.5" stroke-linejoin="round" stroke-linecap="round"/>
<path d="M445.5,83.0 L453.2,81.7" fill="none" stroke="#0000ff" stroke-width="1.2" stroke-linejoin="round" stroke-linecap="round"/>
<path d="M93.5,218.0 L94.1,212.9 L94.7,207.8 L94.1,200.2 L95.4,193.8 L95.4,181.1 L97.3,177.9 L100.4,177.0 L103.0,178.5 L104.3,183.6 L104.3,191.3 L106.8,191.9 L108.1,188.7 L110.6,184.9 L114.4,182.4 L117.6,183.6 L120.2,186.8 L121.4,190.6 L124.0,192.5 L125.3,195.7 L128.4,193.8 L132.3,193.2 L135.4,191.9 L139.3,191.9 L141.8,190.6 L144.0,190.6 L144.0,204.0 L139.3,205.3 L136.7,207.8 L136.7,211.0 L134.2,212.9 L131.6,214.2 L129.1,216.7 L126.5,220.5 L122.7,223.1 L117.6,224.3 L111.3,225.0 L103.6,225.0 L98.5,224.3 L94.7,223.1Z" fill="#0000ff" stroke="#0000ff" stroke-width="1.2" stroke-linejoin="round"/>
<path d="M140.0,191.9 L143.8,191.3 L147.6,194.4 L150.2,197.0 L149.5,200.2 L146.4,201.4 L143.8,204.0 L140.0,204.0Z" fill="#0000ff" stroke="#0000ff" stroke-width="1.2" stroke-linejoin="round"/>
<path d="M172.4,202.7 L173.7,198.9 L175.6,193.8 L178.2,191.3 L179.4,186.2 L182.0,182.4 L183.9,179.8 L190.3,179.2 L193.4,178.5 L197.3,180.4 L198.5,183.6 L197.9,187.4 L199.2,193.8 L199.2,198.9 L196.0,200.2 L190.9,200.2 L187.1,201.4 L183.3,204.0 L178.2,205.9 L174.4,205.9Z" fill="#0000ff" stroke="#0000ff" stroke-width="1.2" stroke-linejoin="round"/>
<path d="M88.6,217.7L92.1,221.2L88.6,224.7L85.1,221.2Z" fill="#fff" stroke="#0000ff" stroke-width="1.45" stroke-linejoin="round"/>
<path d="M142.5,191.1L145.3,193.8L142.5,196.6L139.8,193.8Z" fill="#fff" stroke="#0000ff" stroke-width="1.45" stroke-linejoin="round"/>
<path d="M147.6,195.1L150.1,197.6L147.6,200.1L145.1,197.6Z" fill="#fff" stroke="#0000ff" stroke-width="1.45" stroke-linejoin="round"/>
<path d="M155.9,194.3L159.7,198.0L155.9,201.8L152.2,198.0Z" fill="#fff" stroke="#0000ff" stroke-width="1.45" stroke-linejoin="round"/>
<path d="M166.7,192.8L170.0,196.1L166.7,199.3L163.5,196.1Z" fill="#fff" stroke="#0000ff" stroke-width="1.45" stroke-linejoin="round"/>
<path d="M164.4,199.2L167.7,202.5L164.4,205.7L161.2,202.5Z" fill="#fff" stroke="#0000ff" stroke-width="1.45" stroke-linejoin="round"/>
<path d="M187.1,172.2L190.8,176.0L187.1,179.7L183.3,176.0Z" fill="#fff" stroke="#0000ff" stroke-width="1.45" stroke-linejoin="round"/>
<path d="M176.9,190.9L180.4,194.4L176.9,197.9L173.4,194.4Z" fill="#fff" stroke="#0000ff" stroke-width="1.45" stroke-linejoin="round"/>
<path d="M194.1,178.9L197.3,182.1L194.1,185.4L190.8,182.1Z" fill="#fff" stroke="#0000ff" stroke-width="1.45" stroke-linejoin="round"/>
<path d="M96.0,221.8 L96.0,215.4 L97.3,210.3 L96.6,204.0 L95.4,200.2 L98.5,198.9 L102.4,196.4 L106.2,195.7 L110.0,198.9 L113.8,197.6 L117.6,200.2 L121.4,202.7 L125.3,204.0 L129.1,206.5 L131.6,209.1 L127.8,211.6 L124.0,214.2 L120.2,216.7 L117.6,220.5 L112.5,221.8 L104.9,221.8 L99.8,222.4Z" fill="#ff0000" stroke="#ff0000" stroke-width="0.5" stroke-linejoin="round"/>
<path d="M95.7,182.4 L98.3,181.1 L99.2,184.3 L97.3,185.9 L95.4,184.9Z" fill="#ff0000" stroke="#ff0000" stroke-width="0.5" stroke-linejoin="round"/>
<circle cx="99.2" cy="191.3" r="1.6" fill="#ff0000"/>
<circle cx="102.4" cy="193.2" r="1.6" fill="#ff0000"/>
<circle cx="98.5" cy="195.3" r="1.6" fill="#ff0000"/>
<circle cx="105.5" cy="194.8" r="1.5" fill="#ff0000"/>
<circle cx="96.6" cy="200.2" r="1.8" fill="#ff0000"/>
<path d="M125.9,196.4 L129.1,193.2 L132.9,192.5 L138.0,193.2 L144.0,193.8 L144.0,201.4 L139.3,202.7 L132.9,202.7 L127.8,200.2Z" fill="#ff0000" stroke="#ff0000" stroke-width="0.5" stroke-linejoin="round"/>
<circle cx="133.5" cy="191.5" r="1.5" fill="#ff0000"/>
<circle cx="89.6" cy="222.4" r="1.6" fill="#ff0000"/>
<circle cx="141.9" cy="197.0" r="1.6" fill="#ff0000"/>
<circle cx="142.5" cy="201.7" r="1.6" fill="#ff0000"/>
<circle cx="147.0" cy="196.1" r="1.5" fill="#ff0000"/>
<circle cx="155.9" cy="192.8" r="1.6" fill="#ff0000"/>
<path d="M163.9,200.2 L167.7,196.6" fill="none" stroke="#ff0000" stroke-width="2.6" stroke-linejoin="round" stroke-linecap="round"/>
<path d="M175.0,200.2 L180.7,198.6 L181.0,200.4 L175.4,202.1Z" fill="#ff0000" stroke="#ff0000" stroke-width="0.5" stroke-linejoin="round"/>
<path d="M180.7,192.5 L188.3,190.6 L196.0,187.4 L196.6,190.0 L188.3,193.2 L181.4,194.4Z" fill="#ff0000" stroke="#ff0000" stroke-width="0.5" stroke-linejoin="round"/>
<circle cx="185.4" cy="198.9" r="2.0" fill="#ff0000"/>
<path d="M251.5,221.8 L252.2,212.9 L252.8,204.0 L254.1,193.8 L254.1,181.1 L255.4,177.9 L257.9,176.6 L261.1,178.5 L261.7,184.9 L263.6,187.4 L265.5,189.4 L263.6,192.5 L263.0,195.1 L264.3,197.0 L267.4,197.6 L270.6,196.4 L273.2,197.0 L275.7,198.9 L276.4,210.3 L277.6,200.2 L278.9,196.4 L280.2,193.2 L282.1,191.3 L285.3,191.9 L287.2,193.8 L289.7,193.8 L292.3,195.1 L293.5,198.9 L292.9,204.0 L289.7,205.3 L285.9,204.0 L284.6,206.5 L284.0,210.3 L285.3,212.9 L288.4,212.9 L290.4,215.4 L289.7,219.3 L287.2,221.2 L284.6,221.8 L282.1,223.1 L278.3,223.1 L274.4,224.3 L268.1,225.0 L261.7,225.0 L256.6,224.3 L252.8,223.7Z" fill="#0000ff" stroke="#0000ff" stroke-width="1.2" stroke-linejoin="round"/>
<path d="M315.9,186.2 L317.8,183.0 L321.0,182.4 L323.5,184.9 L324.2,189.4 L326.1,191.3 L329.3,191.3 L331.2,193.8 L331.2,200.2 L330.5,206.5 L328.6,211.6 L326.1,212.9 L323.5,210.3 L321.0,209.1 L318.5,207.8 L316.5,205.3 L315.9,200.2 L315.7,193.8Z" fill="#0000ff" stroke="#0000ff" stroke-width="1.2" stroke-linejoin="round"/>
<path d="M338.2,210.3 L340.1,207.2 L343.3,207.8 L345.8,211.6 L346.4,215.4 L343.9,218.6 L340.7,219.3 L338.2,216.7 L337.5,213.5Z" fill="#0000ff" stroke="#0000ff" stroke-width="1.2" stroke-linejoin="round"/>
<path d="M352.8,188.7 L356.0,184.9 L358.5,182.4 L359.2,177.3 L360.4,174.1 L363.6,174.1 L365.5,176.6 L364.9,181.1 L366.2,184.9 L366.2,192.5 L365.5,197.6 L364.3,204.0 L363.0,210.3 L364.3,215.4 L363.0,219.3 L360.4,221.2 L357.9,220.5 L356.6,216.7 L354.1,214.2 L351.5,210.3 L352.2,204.0 L352.8,198.9 L352.2,193.8Z" fill="#0000ff" stroke="#0000ff" stroke-width="1.2" stroke-linejoin="round"/>
<path d="M263.0,187.7L265.5,190.2L263.0,192.7L260.5,190.2Z" fill="#fff" stroke="#0000ff" stroke-width="1.45" stroke-linejoin="round"/>
<path d="M297.1,216.9L300.7,220.5L297.1,224.2L293.5,220.5Z" fill="#fff" stroke="#0000ff" stroke-width="1.45" stroke-linejoin="round"/>
<path d="M284.6,213.3L287.4,216.1L284.6,218.8L281.9,216.1Z" fill="#fff" stroke="#0000ff" stroke-width="1.45" stroke-linejoin="round"/>
<path d="M288.4,214.8L290.9,217.3L288.4,219.8L285.9,217.3Z" fill="#fff" stroke="#0000ff" stroke-width="1.45" stroke-linejoin="round"/>
<path d="M328.4,190.2L331.1,192.9L328.4,195.7L325.6,192.9Z" fill="#fff" stroke="#0000ff" stroke-width="1.45" stroke-linejoin="round"/>
<path d="M362.0,172.7L365.2,176.0L362.0,179.2L358.7,176.0Z" fill="#fff" stroke="#0000ff" stroke-width="1.45" stroke-linejoin="round"/>
<path d="M355.3,184.7L358.3,187.7L355.3,190.7L352.3,187.7Z" fill="#fff" stroke="#0000ff" stroke-width="1.45" stroke-linejoin="round"/>
<path d="M360.4,213.5L363.7,216.7L360.4,220.0L357.2,216.7Z" fill="#fff" stroke="#0000ff" stroke-width="1.45" stroke-linejoin="round"/>
<path d="M352.8,207.8L355.3,210.3L352.8,212.8L350.3,210.3Z" fill="#fff" stroke="#0000ff" stroke-width="1.45" stroke-linejoin="round"/>
<path d="M363.6,194.1L365.9,196.4L363.6,198.6L361.4,196.4Z" fill="#fff" stroke="#0000ff" stroke-width="1.45" stroke-linejoin="round"/>
<path d="M281.1,181.3 L281.1,185.2" fill="none" stroke="#ff0000" stroke-width="2.4" stroke-linejoin="round" stroke-linecap="round"/>
<path d="M279.8,190.6 L283.1,190.6 L283.4,204.0 L280.2,204.0Z" fill="#ff0000" stroke="#ff0000" stroke-width="0.5" stroke-linejoin="round"/>
<path d="M287.8,197.0 L290.4,197.0 L290.7,204.0 L288.2,204.0Z" fill="#ff0000" stroke="#ff0000" stroke-width="0.5" stroke-linejoin="round"/>
<path d="M256.0,211.0 L255.6,221.8" fill="none" stroke="#ff0000" stroke-width="2.6" stroke-linejoin="round" stroke-linecap="round"/>
<path d="M259.8,200.8 L259.4,221.8" fill="none" stroke="#ff0000" stroke-width="3.0" stroke-linejoin="round" stroke-linecap="round"/>
<path d="M262.4,206.5 L262.1,218.0" fill="none" stroke="#ff0000" stroke-width="2.4" stroke-linejoin="round" stroke-linecap="round"/>
<path d="M265.5,204.0 L265.3,221.8" fill="none" stroke="#ff0000" stroke-width="3.0" stroke-linejoin="round" stroke-linecap="round"/>
<path d="M269.4,200.8 L269.1,220.5" fill="none" stroke="#ff0000" stroke-width="2.8" stroke-linejoin="round" stroke-linecap="round"/>
<path d="M272.2,203.4 L272.2,218.0" fill="none" stroke="#ff0000" stroke-width="2.4" stroke-linejoin="round" stroke-linecap="round"/>
<path d="M275.1,212.9 L275.1,219.3" fill="none" stroke="#ff0000" stroke-width="2.4" stroke-linejoin="round" stroke-linecap="round"/>
<path d="M254.1,218.0 L261.7,218.6 L269.4,218.0 L278.3,219.3 L278.3,222.8 L268.1,223.3 L259.2,223.3 L254.1,222.4Z" fill="#ff0000" stroke="#ff0000" stroke-width="0.5" stroke-linejoin="round"/>
<path d="M256.6,207.8 L264.3,207.8 L264.3,212.9 L256.6,212.9Z" fill="#ff0000" stroke="#ff0000" stroke-width="0.5" stroke-linejoin="round"/>
<path d="M282.1,208.1 L284.6,208.1 L284.6,214.2 L282.1,214.2Z" fill="#ff0000" stroke="#ff0000" stroke-width="0.5" stroke-linejoin="round"/>
<path d="M284.9,218.2 L288.4,218.0 L288.4,221.5 L284.9,221.8Z" fill="#ff0000" stroke="#ff0000" stroke-width="0.5" stroke-linejoin="round"/>
<circle cx="296.7" cy="222.8" r="1.4" fill="#ff0000"/>
<path d="M319.1,201.4 L319.3,210.3" fill="none" stroke="#ff0000" stroke-width="2.8" stroke-linejoin="round" stroke-linecap="round"/>
<path d="M325.4,206.5 L328.0,205.9 L328.9,209.1 L327.4,211.6 L325.4,211.0Z" fill="#ff0000" stroke="#ff0000" stroke-width="0.5" stroke-linejoin="round"/>
<path d="M341.6,202.5 L341.6,211.6" fill="none" stroke="#ff0000" stroke-width="2.6" stroke-linejoin="round" stroke-linecap="round"/>
<path d="M355.7,193.2 L355.3,210.3" fill="none" stroke="#ff0000" stroke-width="2.6" stroke-linejoin="round" stroke-linecap="round"/>
<path d="M361.5,188.1 L361.5,194.4" fill="none" stroke="#ff0000" stroke-width="2.6" stroke-linejoin="round" stroke-linecap="round"/>
<path d="M360.2,198.9 L359.8,206.5" fill="none" stroke="#ff0000" stroke-width="2.4" stroke-linejoin="round" stroke-linecap="round"/>
<path d="M359.2,209.7 L359.4,213.5" fill="none" stroke="#ff0000" stroke-width="2.4" stroke-linejoin="round" stroke-linecap="round"/>
<path d="M416.3,221.8 L417.5,218.6 L421.4,218.0 L426.5,218.0 L431.5,216.7 L435.4,215.4 L439.2,214.2 L443.0,212.9 L446.8,211.0 L448.7,209.1 L451.3,207.2 L455.7,207.2 L458.9,208.4 L459.5,204.0 L460.8,200.2 L464.6,198.3 L468.4,198.9 L471.6,200.2 L474.8,198.3 L477.0,196.4 L477.0,224.3 L472.3,225.0 L465.9,225.0 L453.2,225.0 L440.4,225.0 L427.7,225.0 L420.1,224.6 L416.9,223.7Z" fill="#0000ff" stroke="#0000ff" stroke-width="1.2" stroke-linejoin="round"/>
<path d="M471.0,200.2 L474.8,198.3 L477.4,195.1 L479.9,192.5 L483.7,191.3 L487.5,191.9 L490.1,193.2 L492.6,192.5 L492.0,187.4 L493.3,183.0 L495.8,179.2 L498.4,177.3 L501.5,176.6 L503.4,176.0 L506.0,179.8 L507.9,183.6 L509.2,187.4 L509.2,192.5 L510.4,196.4 L513.0,197.6 L516.2,198.9 L517.4,202.1 L515.5,204.6 L511.7,205.9 L509.2,207.2 L507.9,210.3 L505.4,212.9 L501.5,215.4 L499.0,218.6 L496.4,221.8 L490.1,224.3 L483.7,225.0 L477.4,225.0 L471.0,225.0Z" fill="#0000ff" stroke="#0000ff" stroke-width="1.2" stroke-linejoin="round"/>
<path d="M522.5,196.4 L524.4,192.5 L527.6,191.3 L530.2,192.5 L531.4,196.4 L531.4,201.4 L529.5,204.6 L525.7,205.9 L523.2,203.4 L521.9,200.2Z" fill="#0000ff" stroke="#0000ff" stroke-width="1.2" stroke-linejoin="round"/>
<path d="M505.6,172.1L509.2,175.7L505.6,179.4L502.0,175.7Z" fill="#fff" stroke="#0000ff" stroke-width="1.45" stroke-linejoin="round"/>
<path d="M515.5,200.0L518.0,202.5L515.5,205.0L513.0,202.5Z" fill="#fff" stroke="#0000ff" stroke-width="1.45" stroke-linejoin="round"/>
<path d="M528.9,183.8L532.5,187.4L528.9,191.1L525.3,187.4Z" fill="#fff" stroke="#0000ff" stroke-width="1.45" stroke-linejoin="round"/>
<path d="M525.7,200.9L528.2,203.4L525.7,205.9L523.2,203.4Z" fill="#fff" stroke="#0000ff" stroke-width="1.45" stroke-linejoin="round"/>
<path d="M417.5,222.4 L422.6,220.5 L430.3,219.9 L437.9,218.6 L441.7,216.7 L445.5,215.4 L449.4,214.2 L451.9,212.3 L457.0,212.3 L462.1,211.0 L463.3,207.8 L462.7,205.3 L465.9,205.9 L468.4,207.8 L471.0,209.1 L477.0,206.5 L477.0,221.8 L471.0,221.8 L463.3,223.1 L453.2,223.1 L440.4,223.7 L427.7,224.1 L418.8,224.1Z" fill="#ff0000" stroke="#ff0000" stroke-width="0.5" stroke-linejoin="round"/>
<path d="M524.7,194.4 L527.6,193.2 L529.8,195.7 L529.8,200.2 L527.0,201.4 L524.7,199.5Z" fill="#ff0000" stroke="#ff0000" stroke-width="0.5" stroke-linejoin="round"/>
<path d="M471.0,210.3 L474.8,206.5 L477.4,202.7 L478.6,199.5 L481.2,197.0 L483.7,198.3 L487.5,200.8 L491.4,200.2 L496.4,198.9 L501.5,200.2 L505.4,200.2 L509.2,201.4 L514.3,201.4 L515.5,204.0 L510.4,205.3 L506.6,205.9 L505.4,209.1 L501.5,211.6 L497.7,214.2 L492.6,216.7 L486.3,218.6 L478.6,220.5 L471.0,221.8Z" fill="#ff0000" stroke="#ff0000" stroke-width="0.5" stroke-linejoin="round"/>
<path d="M478.4,195.3 L480.5,192.8 L483.5,192.5 L484.0,196.1 L481.2,197.6 L478.6,197.6Z" fill="#ff0000" stroke="#ff0000" stroke-width="0.5" stroke-linejoin="round"/>
<path d="M494.5,191.9 L497.1,189.4 L500.9,188.7 L504.3,189.7 L505.1,193.2 L502.2,194.8 L498.4,195.3 L495.2,194.4Z" fill="#ff0000" stroke="#ff0000" stroke-width="0.5" stroke-linejoin="round"/>
<circle cx="488.8" cy="195.3" r="1.6" fill="#ff0000"/>
<circle cx="491.4" cy="198.3" r="1.5" fill="#ff0000"/>
<circle cx="494.2" cy="184.3" r="1.8" fill="#ff0000"/>
<circle cx="497.5" cy="182.4" r="1.8" fill="#ff0000"/>
<path d="M87.1,336.2 L90.3,334.3 L94.7,336.8 L95.4,340.0 L92.8,341.9 L89.6,341.3 L87.1,338.7Z" fill="#0000ff" stroke="#0000ff" stroke-width="1.2" stroke-linejoin="round"/>
<path d="M121.4,304.4 L122.7,300.5 L128.4,301.8 L130.3,305.6 L131.0,300.5 L132.9,298.6 L136.1,298.6 L138.0,301.8 L138.6,309.4 L139.3,315.8 L141.8,319.6 L144.0,320.9 L144.0,346.3 L138.0,345.1 L132.9,344.4 L129.1,343.8 L125.9,341.3 L124.0,336.2 L122.7,329.8 L122.1,322.2 L121.4,313.3Z" fill="#0000ff" stroke="#0000ff" stroke-width="1.2" stroke-linejoin="round"/>
<path d="M140.0,320.9 L142.5,320.9 L145.1,323.4 L145.7,327.3 L148.9,328.5 L152.7,329.2 L155.9,330.4 L157.8,333.0 L159.1,334.9 L159.7,326.0 L159.1,313.3 L161.0,312.0 L164.8,312.6 L166.7,317.1 L166.7,327.3 L167.4,331.7 L166.7,334.9 L168.0,336.8 L171.8,338.1 L178.2,338.1 L184.5,337.4 L190.9,338.1 L196.0,338.7 L198.5,341.3 L199.2,344.4 L196.0,345.7 L190.9,346.3 L178.2,346.3 L165.4,346.3 L152.7,347.0 L140.0,347.0Z" fill="#0000ff" stroke="#0000ff" stroke-width="1.2" stroke-linejoin="round"/>
<path d="M86.8,308.4L90.7,312.2L86.8,316.1L83.0,312.2Z" fill="#fff" stroke="#0000ff" stroke-width="1.45" stroke-linejoin="round"/>
<path d="M91.5,336.5L93.5,338.5L91.5,340.5L89.5,338.5Z" fill="#fff" stroke="#0000ff" stroke-width="1.45" stroke-linejoin="round"/>
<path d="M99.2,339.9L102.4,343.2L99.2,346.4L95.9,343.2Z" fill="#fff" stroke="#0000ff" stroke-width="1.45" stroke-linejoin="round"/>
<path d="M104.3,339.9L107.5,343.2L104.3,346.4L101.0,343.2Z" fill="#fff" stroke="#0000ff" stroke-width="1.45" stroke-linejoin="round"/>
<path d="M109.0,339.9L112.2,343.2L109.0,346.4L105.7,343.2Z" fill="#fff" stroke="#0000ff" stroke-width="1.45" stroke-linejoin="round"/>
<path d="M125.3,293.7L128.9,297.4L125.3,301.0L121.6,297.4Z" fill="#fff" stroke="#0000ff" stroke-width="1.45" stroke-linejoin="round"/>
<path d="M162.9,305.3L166.4,308.8L162.9,312.3L159.4,308.8Z" fill="#fff" stroke="#0000ff" stroke-width="1.45" stroke-linejoin="round"/>
<path d="M163.5,328.1L166.5,331.1L163.5,334.1L160.5,331.1Z" fill="#fff" stroke="#0000ff" stroke-width="1.45" stroke-linejoin="round"/>
<path d="M85.6,313.0 L88.1,313.0" fill="none" stroke="#ff0000" stroke-width="1.2" stroke-linejoin="round" stroke-linecap="round"/>
<path d="M86.1,323.2 L86.3,326.2" fill="none" stroke="#ff0000" stroke-width="2.4" stroke-linejoin="round" stroke-linecap="round"/>
<path d="M89.6,330.1 L92.4,333.6" fill="none" stroke="#ff0000" stroke-width="2.4" stroke-linejoin="round" stroke-linecap="round"/>
<circle cx="100.1" cy="337.4" r="1.5" fill="#ff0000"/>
<circle cx="103.9" cy="337.4" r="1.5" fill="#ff0000"/>
<circle cx="108.1" cy="338.1" r="1.5" fill="#ff0000"/>
<path d="M124.7,302.7 L127.7,302.7 L128.2,308.1 L127.9,313.5 L128.4,319.9 L129.1,326.3 L130.3,331.2 L132.5,334.4 L136.2,336.5 L139.5,338.1 L144.8,339.0 L150.2,338.4 L155.6,337.6 L160.9,336.5 L168.0,336.0 L168.0,342.4 L160.9,343.0 L150.2,343.3 L139.5,342.2 L133.0,340.1 L128.7,336.9 L126.0,332.8 L124.4,326.3 L123.9,318.8 L123.9,311.3 L124.2,305.9Z" fill="#ff0000" stroke="#ff0000" stroke-width="0.5" stroke-linejoin="round"/>
<path d="M133.0,313.5 L135.7,312.4 L136.8,316.7 L137.8,323.1 L140.5,326.3 L143.8,329.0 L146.4,332.2 L150.2,334.4 L154.5,334.1 L157.2,335.4 L153.4,337.6 L148.0,337.6 L142.7,336.0 L138.4,333.3 L135.2,329.6 L133.0,324.2 L132.5,318.8Z" fill="#ff0000" stroke="#ff0000" stroke-width="0.5" stroke-linejoin="round"/>
<path d="M162.6,313.5 L163.4,322.0 L163.8,330.5" fill="none" stroke="#ff0000" stroke-width="2.4" stroke-linejoin="round" stroke-linecap="round"/>
<circle cx="164.9" cy="333.2" r="1.7" fill="#ff0000"/>
<path d="M165.4,340.6 L168.0,339.7 L178.2,340.6 L190.9,341.5 L197.3,342.3 L197.5,344.3 L178.2,344.6 L165.4,344.1Z" fill="#ff0000" stroke="#ff0000" stroke-width="0.5" stroke-linejoin="round"/>
<path d="M268.1,337.4 L266.8,328.5 L266.2,320.9 L267.4,313.3 L268.1,306.9 L269.4,301.2 L270.9,299.5 L273.2,299.0 L276.4,299.5 L278.5,301.2 L279.5,303.1 L280.2,309.4 L280.8,315.8 L283.4,315.8 L285.9,318.4 L289.1,322.2 L292.3,324.7 L293.5,329.8 L296.1,332.3 L299.9,333.6 L303.7,334.9 L307.5,336.2 L311.0,336.8 L311.0,346.3 L306.3,346.3 L299.9,345.7 L293.5,345.1 L287.2,345.1 L280.8,344.8 L274.4,344.4 L270.6,342.5Z" fill="#0000ff" stroke="#0000ff" stroke-width="1.2" stroke-linejoin="round"/>
<path d="M307.0,338.1 L313.4,338.7 L319.7,339.3 L332.4,339.3 L345.2,340.0 L357.9,340.0 L363.0,340.6 L365.5,342.5 L364.9,345.1 L361.7,346.3 L345.2,346.6 L332.4,346.3 L319.7,347.0 L307.0,347.0Z" fill="#0000ff" stroke="#0000ff" stroke-width="1.2" stroke-linejoin="round"/>
<path d="M274.2,293.6L277.6,297.0L274.2,300.4L270.8,297.0Z" fill="#fff" stroke="#0000ff" stroke-width="1.45" stroke-linejoin="round"/>
<path d="M363.2,339.9L366.5,343.2L363.2,346.4L360.0,343.2Z" fill="#fff" stroke="#0000ff" stroke-width="1.45" stroke-linejoin="round"/>
<path d="M270.0,317.1 L271.3,312.0 L273.8,309.4 L277.0,310.1 L278.9,313.3 L279.5,317.1 L280.2,320.9 L280.8,326.0 L283.4,329.8 L287.2,332.3 L291.0,334.9 L294.8,337.4 L299.9,338.7 L305.0,338.7 L311.0,338.7 L311.0,343.8 L305.0,343.2 L297.3,342.5 L287.2,343.2 L280.8,343.2 L274.4,342.5 L271.3,340.0 L270.6,334.9 L269.4,326.0Z" fill="#ff0000" stroke="#ff0000" stroke-width="0.5" stroke-linejoin="round"/>
<circle cx="281.1" cy="304.6" r="2.0" fill="#ff0000"/>
<circle cx="284.4" cy="318.6" r="1.5" fill="#ff0000"/>
<circle cx="288.1" cy="320.6" r="1.5" fill="#ff0000"/>
<circle cx="288.7" cy="324.5" r="1.6" fill="#ff0000"/>
<circle cx="303.5" cy="336.4" r="1.6" fill="#ff0000"/>
<path d="M307.0,338.7 L312.1,339.3 L319.7,341.3 L332.4,341.9 L338.8,342.5 L345.2,342.3 L360.4,341.9 L361.1,343.8 L345.2,344.4 L332.4,344.4 L319.7,344.1 L307.0,343.8Z" fill="#ff0000" stroke="#ff0000" stroke-width="0.5" stroke-linejoin="round"/>
<path d="M418.2,332.3 L417.5,322.2 L417.5,309.4 L418.2,303.1 L419.8,300.8 L424.9,300.8 L425.8,303.1 L427.7,305.6 L429.0,300.5 L431.5,298.6 L434.7,298.0 L437.3,300.5 L438.5,305.6 L439.2,312.0 L439.8,319.6 L441.7,326.0 L445.5,331.1 L449.4,333.6 L453.2,334.9 L458.3,335.5 L463.3,336.8 L468.4,338.1 L473.5,338.7 L477.0,338.7 L477.0,346.3 L472.3,346.3 L465.9,346.1 L459.5,345.7 L453.2,345.1 L446.8,344.4 L440.4,345.1 L436.6,347.0 L434.1,346.3 L430.3,343.8 L425.2,342.5 L421.4,341.3 L419.5,337.4Z" fill="#0000ff" stroke="#0000ff" stroke-width="1.2" stroke-linejoin="round"/>
<path d="M471.0,338.7 L477.4,338.5 L490.1,339.0 L502.8,339.7 L511.7,340.6 L514.9,342.5 L514.3,345.7 L509.2,346.3 L496.4,346.6 L483.7,347.0 L471.0,347.0Z" fill="#0000ff" stroke="#0000ff" stroke-width="1.2" stroke-linejoin="round"/>
<path d="M422.0,294.0L425.4,297.4L422.0,300.7L418.6,297.4Z" fill="#fff" stroke="#0000ff" stroke-width="1.45" stroke-linejoin="round"/>
<path d="M420.1,309.4 L421.4,308.2 L423.9,310.7 L425.2,317.1 L427.1,312.6 L429.0,313.3 L430.3,317.1 L432.8,319.6 L433.4,323.4 L435.4,326.0 L439.2,329.8 L443.0,333.6 L448.1,336.2 L453.2,338.1 L459.5,339.3 L465.9,340.6 L472.3,341.3 L477.0,341.9 L477.0,345.1 L471.0,344.4 L463.3,343.2 L455.7,342.5 L448.1,341.3 L440.4,340.0 L432.8,338.7 L426.5,337.4 L422.6,334.9 L420.7,328.5 L420.1,322.2Z" fill="#ff0000" stroke="#ff0000" stroke-width="0.5" stroke-linejoin="round"/>
<path d="M428.7,303.1 L430.0,307.2" fill="none" stroke="#ff0000" stroke-width="2.4" stroke-linejoin="round" stroke-linecap="round"/>
<path d="M430.0,312.2 L431.0,316.8" fill="none" stroke="#ff0000" stroke-width="2.0" stroke-linejoin="round" stroke-linecap="round"/>
<circle cx="433.8" cy="320.9" r="1.6" fill="#ff0000"/>
<path d="M471.0,341.9 L483.7,342.3 L496.4,342.5 L511.7,342.8 L513.0,344.4 L496.4,344.8 L483.7,345.1 L471.0,345.3Z" fill="#ff0000" stroke="#ff0000" stroke-width="0.5" stroke-linejoin="round"/>
<path d="M422.9,311.4 L423.1,320.3" fill="none" stroke="#0000ff" stroke-width="1.2" stroke-linejoin="round" stroke-linecap="round"/>
<path d="M426.2,313.3 L426.5,320.9" fill="none" stroke="#0000ff" stroke-width="1.2" stroke-linejoin="round" stroke-linecap="round"/>
<path d="M428.7,315.8 L429.0,322.2" fill="none" stroke="#0000ff" stroke-width="1.0" stroke-linejoin="round" stroke-linecap="round"/>
<path d="M96.6,463.5 L97.9,461.0 L100.4,460.0 L103.4,461.0 L104.6,464.2 L103.4,467.3 L100.4,468.2 L97.5,467.3Z" fill="#0000ff" stroke="#0000ff" stroke-width="1.2" stroke-linejoin="round"/>
<path d="M108.7,464.8 L110.6,462.3 L114.4,461.6 L116.4,464.2 L115.7,466.7 L111.9,467.6 L109.0,466.7Z" fill="#0000ff" stroke="#0000ff" stroke-width="1.2" stroke-linejoin="round"/>
<path d="M117.6,463.5 L119.5,460.3 L122.7,460.0 L125.9,461.6 L127.8,464.8 L126.5,467.3 L120.2,468.0 L117.6,466.7Z" fill="#0000ff" stroke="#0000ff" stroke-width="1.2" stroke-linejoin="round"/>
<path d="M127.8,464.8 L129.1,461.6 L132.3,459.1 L135.4,457.8 L138.6,457.2 L140.5,455.3 L144.0,455.3 L144.0,468.0 L138.0,468.0 L132.9,468.2 L128.4,467.3Z" fill="#0000ff" stroke="#0000ff" stroke-width="1.2" stroke-linejoin="round"/>
<path d="M140.0,455.9 L142.5,457.2 L145.1,458.4 L147.6,457.2 L151.5,455.9 L154.0,452.7 L156.5,450.2 L159.1,449.5 L161.0,452.1 L162.3,453.3 L164.8,447.0 L167.4,444.4 L169.9,443.2 L172.4,441.9 L172.8,436.8 L172.4,432.4 L175.6,429.8 L178.2,426.6 L178.8,421.5 L181.4,419.6 L183.9,420.9 L185.2,425.4 L185.8,434.3 L187.1,433.0 L189.0,429.2 L191.5,426.6 L192.8,421.5 L196.0,421.5 L199.2,424.7 L199.2,436.8 L199.8,441.9 L198.5,449.5 L197.9,455.9 L196.6,461.0 L193.4,464.2 L189.6,464.8 L187.1,463.5 L185.2,461.0 L183.3,462.9 L179.4,463.5 L175.6,462.9 L173.7,461.0 L171.8,461.6 L169.3,462.9 L165.4,463.5 L162.9,462.3 L160.4,464.2 L156.5,464.8 L152.7,465.4 L147.6,466.1 L143.8,464.8 L140.0,464.2Z" fill="#0000ff" stroke="#0000ff" stroke-width="1.2" stroke-linejoin="round"/>
<path d="M175.4,430.1L178.9,433.6L175.4,437.1L171.9,433.6Z" fill="#fff" stroke="#0000ff" stroke-width="1.45" stroke-linejoin="round"/>
<path d="M195.6,414.6L199.4,418.4L195.6,422.1L191.9,418.4Z" fill="#fff" stroke="#0000ff" stroke-width="1.45" stroke-linejoin="round"/>
<path d="M162.9,458.5L165.4,461.0L162.9,463.5L160.4,461.0Z" fill="#fff" stroke="#0000ff" stroke-width="1.45" stroke-linejoin="round"/>
<path d="M99.6,463.8 L101.7,463.8 L101.7,467.1 L99.6,467.1Z" fill="#ff0000" stroke="#ff0000" stroke-width="0.5" stroke-linejoin="round"/>
<path d="M111.3,463.8 L115.7,463.5 L115.3,466.1 L111.5,466.3Z" fill="#ff0000" stroke="#ff0000" stroke-width="0.5" stroke-linejoin="round"/>
<path d="M119.5,462.3 L121.4,461.0 L123.4,461.6 L126.5,463.5 L125.9,466.7 L120.2,466.7Z" fill="#ff0000" stroke="#ff0000" stroke-width="0.5" stroke-linejoin="round"/>
<path d="M131.6,459.1 L131.9,464.5" fill="none" stroke="#ff0000" stroke-width="2.4" stroke-linejoin="round" stroke-linecap="round"/>
<path d="M129.7,463.5 L135.4,462.3 L135.4,466.1 L130.1,466.3Z" fill="#ff0000" stroke="#ff0000" stroke-width="0.5" stroke-linejoin="round"/>
<path d="M136.7,459.7 L140.5,458.4 L143.1,459.7 L143.1,464.2 L138.0,464.8Z" fill="#ff0000" stroke="#ff0000" stroke-width="0.5" stroke-linejoin="round"/>
<path d="M135.4,458.2 L135.7,461.0" fill="none" stroke="#ff0000" stroke-width="2.0" stroke-linejoin="round" stroke-linecap="round"/>
<path d="M140.0,459.7 L142.5,460.0 L142.5,463.5 L140.0,463.8Z" fill="#ff0000" stroke="#ff0000" stroke-width="0.5" stroke-linejoin="round"/>
<path d="M147.0,461.0 L150.2,459.1 L154.0,457.8 L155.9,459.7 L155.3,463.5 L150.2,464.2 L147.0,463.5Z" fill="#ff0000" stroke="#ff0000" stroke-width="0.5" stroke-linejoin="round"/>
<path d="M150.2,452.7 L150.2,455.3" fill="none" stroke="#ff0000" stroke-width="2.4" stroke-linejoin="round" stroke-linecap="round"/>
<path d="M155.5,451.1 L157.8,450.6 L159.1,455.9 L158.4,461.0 L155.9,461.0Z" fill="#ff0000" stroke="#ff0000" stroke-width="0.5" stroke-linejoin="round"/>
<path d="M162.9,458.4 L164.8,453.3 L166.7,449.5 L169.3,447.0 L169.9,453.3 L169.3,459.7 L165.4,461.6Z" fill="#ff0000" stroke="#ff0000" stroke-width="0.5" stroke-linejoin="round"/>
<path d="M175.0,443.2 L177.2,443.2 L177.2,453.3 L179.4,453.3 L179.4,443.2 L182.0,443.2 L182.6,458.4 L174.4,458.4Z" fill="#ff0000" stroke="#ff0000" stroke-width="0.5" stroke-linejoin="round"/>
<path d="M187.3,448.3 L188.3,441.9 L189.0,434.9 L190.9,433.6 L193.4,431.1 L194.5,434.9 L194.1,443.2 L194.5,453.3 L193.4,457.2 L190.9,458.4 L188.1,456.5 L187.1,452.1Z" fill="#ff0000" stroke="#ff0000" stroke-width="0.5" stroke-linejoin="round"/>
<path d="M189.1,424.1 L189.1,428.2" fill="none" stroke="#ff0000" stroke-width="2.4" stroke-linejoin="round" stroke-linecap="round"/>
<path d="M191.1,438.1 L190.9,447.0" fill="none" stroke="#0000ff" stroke-width="1.3" stroke-linejoin="round" stroke-linecap="round"/>
<path d="M250.3,464.8 L251.5,461.6 L255.4,458.4 L259.2,456.5 L263.0,455.3 L265.5,452.1 L269.4,450.2 L274.4,448.9 L278.3,448.3 L280.8,445.7 L284.6,441.9 L288.4,440.0 L291.6,437.4 L294.8,437.4 L298.6,440.6 L301.2,441.9 L303.1,445.1 L302.4,448.9 L299.9,450.8 L298.0,452.7 L298.6,454.6 L302.4,452.1 L306.3,448.3 L306.9,443.2 L307.5,430.4 L308.2,422.8 L311.0,419.6 L311.0,468.0 L306.3,468.0 L299.9,468.0 L287.2,468.0 L274.4,468.0 L261.7,468.0 L254.1,468.0 L250.9,467.3Z" fill="#0000ff" stroke="#0000ff" stroke-width="1.2" stroke-linejoin="round"/>
<path d="M306.4,425.3 L307.3,421.3 L310.1,419.4 L313.4,420.2 L315.4,423.0 L316.0,430.9 L316.8,436.5 L317.4,427.5 L317.9,423.0 L320.8,421.7 L324.1,422.8 L325.3,427.5 L327.0,430.9 L328.6,435.4 L329.2,442.1 L332.0,439.9 L331.5,436.5 L334.3,434.8 L337.1,436.5 L337.6,441.0 L338.8,444.4 L339.9,446.6 L341.0,442.1 L343.3,437.6 L344.2,429.8 L346.1,425.8 L349.5,423.6 L352.3,424.7 L353.2,430.9 L353.6,442.1 L354.5,447.8 L355.1,451.7 L353.4,456.8 L351.2,461.3 L347.8,464.1 L344.4,463.5 L341.0,460.2 L337.6,457.9 L334.3,456.8 L331.5,454.5 L329.8,456.8 L328.6,461.3 L325.3,463.0 L321.9,463.5 L318.5,462.4 L315.1,461.3 L311.8,459.0 L308.4,461.3 L305.0,461.8 L305.0,427.5Z" fill="#0000ff" stroke="#0000ff" stroke-width="1.2" stroke-linejoin="round"/>
<path d="M357.3,439.9 L357.9,436.5 L360.2,433.7 L363.0,434.8 L364.1,438.8 L364.7,443.3 L364.4,450.0 L363.5,454.5 L361.3,455.7 L359.0,454.0 L357.9,450.0 L357.3,444.4Z" fill="#0000ff" stroke="#0000ff" stroke-width="1.2" stroke-linejoin="round"/>
<path d="M283.6,430.0L287.6,434.0L283.6,438.0L279.6,434.0Z" fill="#fff" stroke="#0000ff" stroke-width="1.45" stroke-linejoin="round"/>
<path d="M321.3,415.0L324.8,418.5L321.3,422.0L317.8,418.5Z" fill="#fff" stroke="#0000ff" stroke-width="1.45" stroke-linejoin="round"/>
<path d="M326.6,427.8L329.5,430.7L326.6,433.5L323.7,430.7Z" fill="#fff" stroke="#0000ff" stroke-width="1.45" stroke-linejoin="round"/>
<path d="M334.5,434.1L338.0,437.6L334.5,441.1L331.0,437.6Z" fill="#fff" stroke="#0000ff" stroke-width="1.45" stroke-linejoin="round"/>
<path d="M335.4,441.0L337.9,443.5L335.4,446.0L332.9,443.5Z" fill="#fff" stroke="#0000ff" stroke-width="1.45" stroke-linejoin="round"/>
<path d="M360.2,432.8L363.3,436.0L360.2,439.1L357.0,436.0Z" fill="#fff" stroke="#0000ff" stroke-width="1.45" stroke-linejoin="round"/>
<path d="M361.3,439.6L363.8,442.1L361.3,444.6L358.8,442.1Z" fill="#fff" stroke="#0000ff" stroke-width="1.45" stroke-linejoin="round"/>
<path d="M251.1,463.8 L254.5,461.5 L259.0,459.3 L262.4,457.6 L266.9,457.0 L272.5,456.5 L277.0,457.0 L279.3,459.3 L281.5,461.5 L282.6,463.8 L283.8,466.0 L278.1,467.1 L272.5,466.6 L266.9,467.1 L261.3,467.1 L255.6,466.6 L251.7,466.0Z" fill="#ff0000" stroke="#ff0000" stroke-width="0.5" stroke-linejoin="round"/>
<path d="M265.8,452.5 L268.0,450.3 L269.7,452.5 L269.1,455.7 L266.3,455.7Z" fill="#ff0000" stroke="#ff0000" stroke-width="0.5" stroke-linejoin="round"/>
<path d="M283.8,444.1 L281.0,449.7" fill="none" stroke="#ff0000" stroke-width="2.5" stroke-linejoin="round" stroke-linecap="round"/>
<path d="M283.8,452.5 L287.1,450.3 L290.5,448.6 L293.3,450.8 L293.9,455.9 L295.0,460.4 L293.9,464.9 L288.3,466.0 L283.8,463.8 L283.2,458.1Z" fill="#ff0000" stroke="#ff0000" stroke-width="0.5" stroke-linejoin="round"/>
<circle cx="298.6" cy="445.8" r="2.0" fill="#ff0000"/>
<path d="M299.5,455.9 L304.0,452.5 L310.0,450.8 L310.0,461.5 L304.0,462.6 L299.5,461.5Z" fill="#ff0000" stroke="#ff0000" stroke-width="0.5" stroke-linejoin="round"/>
<path d="M310.1,441.0 L312.9,437.6 L316.3,436.5 L319.1,437.6 L319.6,442.1 L317.9,446.6 L314.0,447.8 L310.6,446.6Z" fill="#ff0000" stroke="#ff0000" stroke-width="0.5" stroke-linejoin="round"/>
<path d="M319.1,433.1 L321.3,430.9 L323.0,432.6 L322.8,437.6 L320.2,438.8Z" fill="#ff0000" stroke="#ff0000" stroke-width="0.5" stroke-linejoin="round"/>
<path d="M323.9,437.6 L326.4,436.5 L327.5,439.9 L327.3,445.5 L324.7,446.6Z" fill="#ff0000" stroke="#ff0000" stroke-width="0.5" stroke-linejoin="round"/>
<path d="M316.8,447.8 L319.6,445.5 L323.0,446.6 L325.8,447.8 L327.5,452.3 L327.0,457.9 L323.0,459.0 L319.6,457.3 L317.4,453.4Z" fill="#ff0000" stroke="#ff0000" stroke-width="0.5" stroke-linejoin="round"/>
<path d="M305.0,452.3 L309.5,451.1 L314.0,452.3 L317.4,454.5 L316.3,457.9 L311.8,457.9 L307.3,456.8 L305.0,457.3Z" fill="#ff0000" stroke="#ff0000" stroke-width="0.5" stroke-linejoin="round"/>
<circle cx="306.7" cy="460.2" r="1.8" fill="#ff0000"/>
<path d="M350.6,424.4 L350.9,428.4" fill="none" stroke="#ff0000" stroke-width="2.6" stroke-linejoin="round" stroke-linecap="round"/>
<path d="M343.3,438.2 L345.5,436.5 L347.6,437.1 L346.9,439.3 L343.8,439.7Z" fill="#ff0000" stroke="#ff0000" stroke-width="0.5" stroke-linejoin="round"/>
<path d="M349.5,433.7 L351.7,432.6 L352.5,436.0 L351.4,440.5 L349.5,439.7Z" fill="#ff0000" stroke="#ff0000" stroke-width="0.5" stroke-linejoin="round"/>
<path d="M347.6,442.7 L350.0,441.6 L351.7,443.3 L351.2,446.6 L348.3,446.6Z" fill="#ff0000" stroke="#ff0000" stroke-width="0.5" stroke-linejoin="round"/>
<path d="M340.1,447.8 L343.3,444.4 L346.7,444.2 L350.0,446.1 L352.1,448.9 L351.4,453.4 L349.5,455.7 L346.1,456.8 L342.1,455.9 L339.9,452.8Z" fill="#ff0000" stroke="#ff0000" stroke-width="0.5" stroke-linejoin="round"/>
<path d="M333.1,452.3 L336.0,450.9 L338.5,452.3 L338.2,455.4 L334.5,455.7Z" fill="#ff0000" stroke="#ff0000" stroke-width="0.5" stroke-linejoin="round"/>
<path d="M359.3,450.6 L361.3,448.7 L363.8,449.8 L363.8,452.8 L361.3,454.1 L359.5,452.8Z" fill="#ff0000" stroke="#ff0000" stroke-width="0.5" stroke-linejoin="round"/>
<path d="M261.3,463.8 L265.8,465.1" fill="none" stroke="#0000ff" stroke-width="1.5" stroke-linejoin="round" stroke-linecap="round"/>
<path d="M269.1,462.1 L272.5,463.2" fill="none" stroke="#0000ff" stroke-width="1.3" stroke-linejoin="round" stroke-linecap="round"/>
<path d="M416.9,438.1 L418.8,434.9 L422.0,433.2 L425.2,434.9 L427.7,438.1 L429.0,443.2 L427.7,447.0 L427.1,450.8 L427.7,455.9 L429.0,461.0 L430.3,462.3 L432.8,458.4 L435.4,455.9 L437.3,452.1 L439.2,450.2 L440.4,453.3 L443.0,455.9 L445.5,452.1 L446.8,448.3 L449.4,447.0 L451.9,448.9 L453.2,451.4 L455.7,450.8 L456.4,444.4 L457.0,440.6 L459.5,438.1 L462.7,437.4 L465.3,439.4 L467.8,438.1 L471.0,437.4 L473.5,436.8 L475.4,430.4 L477.0,429.2 L477.0,461.0 L472.3,462.3 L465.9,462.9 L459.5,463.5 L453.2,464.2 L446.8,465.4 L440.4,466.1 L434.1,466.7 L429.0,467.3 L426.5,468.0 L422.6,468.0 L420.1,466.1 L418.8,461.0 L418.2,453.3 L417.5,447.0 L416.3,443.2Z" fill="#0000ff" stroke="#0000ff" stroke-width="1.2" stroke-linejoin="round"/>
<path d="M471.0,439.4 L473.5,436.8 L475.5,434.3 L477.4,427.9 L480.5,426.6 L480.5,421.5 L482.5,420.9 L486.3,421.5 L487.5,425.4 L488.2,433.0 L488.8,439.4 L489.4,424.1 L491.4,420.9 L493.9,419.6 L496.4,421.5 L497.7,426.6 L498.4,434.3 L499.6,440.6 L500.3,447.0 L499.6,453.3 L497.7,458.4 L495.2,461.0 L491.4,461.0 L488.8,463.5 L486.3,464.2 L483.7,462.3 L481.2,459.7 L477.4,458.4 L473.5,461.0 L471.0,461.0Z" fill="#0000ff" stroke="#0000ff" stroke-width="1.2" stroke-linejoin="round"/>
<path d="M522.5,427.9 L524.4,425.4 L527.0,425.4 L528.9,427.9 L529.5,434.3 L530.8,440.6 L531.4,445.7 L529.5,448.9 L528.3,452.1 L525.7,454.0 L523.8,452.1 L523.2,447.0 L521.9,440.6 L521.9,433.0Z" fill="#0000ff" stroke="#0000ff" stroke-width="1.2" stroke-linejoin="round"/>
<path d="M449.6,430.0L453.6,434.0L449.6,438.0L445.6,434.0Z" fill="#fff" stroke="#0000ff" stroke-width="1.45" stroke-linejoin="round"/>
<path d="M448.7,449.4L450.7,451.4L448.7,453.4L446.7,451.4Z" fill="#fff" stroke="#0000ff" stroke-width="1.45" stroke-linejoin="round"/>
<path d="M483.3,414.9L486.8,418.4L483.3,421.9L479.8,418.4Z" fill="#fff" stroke="#0000ff" stroke-width="1.45" stroke-linejoin="round"/>
<path d="M477.6,427.8L480.9,431.1L477.6,434.3L474.4,431.1Z" fill="#fff" stroke="#0000ff" stroke-width="1.45" stroke-linejoin="round"/>
<path d="M418.6,440.0 L420.7,435.5 L422.9,435.3 L423.3,440.6 L422.0,447.0 L419.5,446.4Z" fill="#ff0000" stroke="#ff0000" stroke-width="0.5" stroke-linejoin="round"/>
<path d="M422.0,448.9 L425.2,448.3 L426.7,452.1 L425.8,455.9 L422.6,455.9 L421.1,452.7Z" fill="#ff0000" stroke="#ff0000" stroke-width="0.5" stroke-linejoin="round"/>
<path d="M421.4,457.2 L424.5,456.5 L426.2,461.0 L427.1,466.1 L424.2,467.3 L422.0,464.2Z" fill="#ff0000" stroke="#ff0000" stroke-width="0.5" stroke-linejoin="round"/>
<path d="M429.0,464.8 L431.5,462.9 L435.4,461.0 L440.4,459.1 L446.8,457.2 L451.9,455.3 L455.7,452.7 L458.3,452.1 L462.1,451.4 L465.9,450.8 L471.0,448.3 L474.8,447.0 L477.0,445.7 L477.0,459.7 L472.3,460.3 L465.9,461.0 L458.3,461.6 L450.6,462.3 L443.0,463.5 L435.4,464.8 L430.3,466.1Z" fill="#ff0000" stroke="#ff0000" stroke-width="0.5" stroke-linejoin="round"/>
<path d="M436.9,455.3 L438.5,450.2 L440.4,455.3Z" fill="#ff0000" stroke="#ff0000" stroke-width="0.5" stroke-linejoin="round"/>
<circle cx="434.1" cy="459.7" r="1.6" fill="#ff0000"/>
<path d="M447.8,448.9 L450.4,443.8" fill="none" stroke="#ff0000" stroke-width="2.4" stroke-linejoin="round" stroke-linecap="round"/>
<circle cx="459.8" cy="445.1" r="2.0" fill="#ff0000"/>
<circle cx="471.0" cy="444.7" r="1.8" fill="#ff0000"/>
<path d="M471.0,443.2 L472.9,444.4 L473.5,449.5 L474.8,454.6 L477.4,455.9 L476.7,458.4 L471.0,458.4Z" fill="#ff0000" stroke="#ff0000" stroke-width="0.5" stroke-linejoin="round"/>
<path d="M477.4,434.3 L479.9,434.9 L479.9,444.4 L477.4,444.4Z" fill="#ff0000" stroke="#ff0000" stroke-width="0.5" stroke-linejoin="round"/>
<path d="M484.4,424.1 L486.9,424.1 L486.9,429.2 L485.0,430.4 L487.5,436.8 L487.5,443.2 L486.9,449.5 L487.5,455.9 L483.7,456.5 L482.5,449.5 L481.8,440.6 L482.5,431.7Z" fill="#ff0000" stroke="#ff0000" stroke-width="0.5" stroke-linejoin="round"/>
<circle cx="479.9" cy="452.7" r="2.0" fill="#ff0000"/>
<path d="M489.4,449.5 L492.0,446.4 L495.8,447.0 L497.7,450.8 L497.1,454.6 L492.6,455.3 L489.4,453.3Z" fill="#ff0000" stroke="#ff0000" stroke-width="0.5" stroke-linejoin="round"/>
<path d="M525.1,444.4 L528.3,442.5 L530.2,444.4 L529.5,447.0 L528.3,448.9 L528.3,453.3 L525.7,454.6 L524.4,450.8Z" fill="#ff0000" stroke="#ff0000" stroke-width="0.5" stroke-linejoin="round"/>
<path d="M434.1,464.3 L448.1,461.2" fill="none" stroke="#0000ff" stroke-width="1.5" stroke-linejoin="round" stroke-linecap="round"/>
<path d="M453.2,459.5 L468.4,455.9" fill="none" stroke="#0000ff" stroke-width="1.5" stroke-linejoin="round" stroke-linecap="round"/>
<path d="M89.5,102.7h0M108.4,101.9h0M133.5,99.5h0M154.2,97.6h0M160.3,60.2h0M145.1,75.2h0M354.5,71.4h0M336.9,82.4h0M290.7,96.8h0M309.0,93.2h0M318.6,95.9h0M322.7,74.2h0M322.7,65.3h0M450.5,100.6h0M460.1,98.6h0M474.6,94.7h0M481.1,82.2h0M513.5,81.6h0M523.6,78.1h0M514.0,60.9h0M505.3,71.3h0M492.1,71.5h0M487.3,72.7h0M477.5,73.0h0M462.4,66.4h0M454.9,65.5h0M445.5,66.8h0M441.9,57.3h0M439.9,61.7h0M439.1,71.5h0M106.8,223.6h0M123.1,220.8h0M102.7,185.5h0M96.5,192.7h0M338.9,213.3h0M344.8,212.9h0M329.9,203.2h0M272.0,197.9h0M255.1,188.2h0M255.2,194.9h0M253.3,214.2h0M498.1,217.8h0M474.1,200.2h0M468.6,200.5h0M459.9,208.2h0M455.5,208.2h0M451.0,209.2h0M448.6,211.0h0M437.2,216.5h0M419.7,219.3h0M159.8,345.6h0M152.2,330.3h0M143.8,324.8h0M268.0,328.3h0M312.4,345.8h0M296.8,333.8h0M268.6,313.7h0M420.1,334.5h0M452.4,343.7h0M489.2,340.1h0M439.5,322.5h0M438.2,318.1h0M437.9,310.0h0M436.8,304.5h0M426.5,306.1h0M176.5,461.9h0M185.0,460.3h0M195.8,459.4h0M188.6,432.3h0M179.4,426.5h0M363.1,447.7h0M308.5,466.9h0M314.8,459.7h0M331.3,453.6h0M347.2,462.6h0M353.7,451.2h0M345.5,432.5h0M314.5,425.4h0M306.3,447.0h0M298.1,455.2h0M298.5,449.8h0M294.7,438.9h0M292.5,439.1h0M287.5,441.6h0M278.5,449.5h0M274.1,450.0h0M484.9,462.0h0M490.5,459.7h0M497.1,456.5h0M464.0,440.4h0M457.0,449.1h0M445.4,454.6h0M426.5,439.8h0" stroke="#0000ff" stroke-width="4.2" stroke-linecap="round" fill="none"/>
<path d="M89.5,102.7h0M108.4,101.9h0M133.5,99.5h0M154.2,97.6h0M160.3,60.2h0M145.1,75.2h0M354.5,71.4h0M336.9,82.4h0M290.7,96.8h0M309.0,93.2h0M318.6,95.9h0M322.7,74.2h0M322.7,65.3h0M450.5,100.6h0M460.1,98.6h0M474.6,94.7h0M481.1,82.2h0M513.5,81.6h0M523.6,78.1h0M514.0,60.9h0M505.3,71.3h0M492.1,71.5h0M487.3,72.7h0M477.5,73.0h0M462.4,66.4h0M454.9,65.5h0M445.5,66.8h0M441.9,57.3h0M439.9,61.7h0M439.1,71.5h0M106.8,223.6h0M123.1,220.8h0M102.7,185.5h0M96.5,192.7h0M338.9,213.3h0M344.8,212.9h0M329.9,203.2h0M272.0,197.9h0M255.1,188.2h0M255.2,194.9h0M253.3,214.2h0M498.1,217.8h0M474.1,200.2h0M468.6,200.5h0M459.9,208.2h0M455.5,208.2h0M451.0,209.2h0M448.6,211.0h0M437.2,216.5h0M419.7,219.3h0M159.8,345.6h0M152.2,330.3h0M143.8,324.8h0M268.0,328.3h0M312.4,345.8h0M296.8,333.8h0M268.6,313.7h0M420.1,334.5h0M452.4,343.7h0M489.2,340.1h0M439.5,322.5h0M438.2,318.1h0M437.9,310.0h0M436.8,304.5h0M426.5,306.1h0M176.5,461.9h0M185.0,460.3h0M195.8,459.4h0M188.6,432.3h0M179.4,426.5h0M363.1,447.7h0M308.5,466.9h0M314.8,459.7h0M331.3,453.6h0M347.2,462.6h0M353.7,451.2h0M345.5,432.5h0M314.5,425.4h0M306.3,447.0h0M298.1,455.2h0M298.5,449.8h0M294.7,438.9h0M292.5,439.1h0M287.5,441.6h0M278.5,449.5h0M274.1,450.0h0M484.9,462.0h0M490.5,459.7h0M497.1,456.5h0M464.0,440.4h0M457.0,449.1h0M445.4,454.6h0M426.5,439.8h0" stroke="#fff" stroke-width="1.8" stroke-linecap="round" fill="none"/>
<path d="M174.5,75.1h0M170.5,78.0h0M144.7,84.2h0M149.7,81.2h0M174.3,84.3h0M155.7,89.4h0M164.1,89.5h0M124.3,94.7h0M317.0,69.8h0M352.0,79.9h0M317.9,82.7h0M350.8,82.9h0M314.4,87.3h0M283.8,94.5h0M285.8,94.4h0M465.8,77.3h0M451.4,80.7h0M443.2,87.2h0M448.5,86.3h0M440.6,89.7h0M451.3,93.5h0M453.3,91.7h0M445.5,97.4h0M442.5,99.1h0M141.6,195.3h0M102.3,202.4h0M104.3,203.4h0M106.3,203.1h0M118.3,207.0h0M123.3,207.3h0M125.3,211.6h0M97.0,215.3h0M107.9,215.5h0M111.8,220.2h0M260.1,200.6h0M288.8,198.9h0M259.1,209.7h0M256.2,221.9h0M266.6,219.9h0M271.2,221.0h0M481.1,201.3h0M480.0,203.4h0M489.4,202.4h0M497.4,203.1h0M477.4,206.7h0M492.7,207.0h0M455.2,214.9h0M471.7,215.1h0M474.8,213.8h0M486.6,214.2h0M495.1,213.8h0M442.0,217.9h0M458.2,216.0h0M465.9,215.6h0M482.6,217.3h0M484.1,217.8h0M434.7,220.9h0M436.5,219.8h0M452.5,220.6h0M462.1,219.3h0M472.6,221.0h0M421.2,223.1h0M126.2,307.0h0M134.1,321.7h0M137.6,329.4h0M183.6,342.3h0M274.4,310.5h0M272.7,315.7h0M274.3,316.0h0M275.4,317.4h0M279.3,325.0h0M274.8,329.7h0M286.5,333.0h0M282.2,339.5h0M277.7,341.2h0M429.2,326.7h0M427.6,333.5h0M429.8,330.6h0M437.2,335.8h0M461.7,340.9h0M191.6,435.3h0M191.0,442.0h0M139.0,460.4h0M165.3,459.2h0M122.6,462.4h0M326.6,443.1h0M315.0,446.1h0M324.8,449.1h0M349.9,449.3h0M361.2,449.8h0M267.4,454.5h0M319.5,452.4h0M321.5,451.6h0M325.2,453.2h0M346.2,451.5h0M285.3,456.4h0M287.3,454.9h0M309.1,455.9h0M323.2,454.8h0M286.7,461.3h0M255.1,462.8h0M259.1,462.9h0M269.2,462.1h0M290.3,462.0h0M275.2,465.0h0M485.6,437.2h0M486.8,438.8h0M484.6,445.2h0M473.2,448.8h0M484.8,451.8h0M495.1,450.6h0M458.5,453.7h0M471.7,454.9h0M463.9,457.2h0M441.3,463.0h0" stroke="#0000ff" stroke-width="1.8" stroke-linecap="round" fill="none"/>
<rect x="0.5" y="0.5" width="112.2" height="30.2" fill="#fff" stroke="#6e6e6e" stroke-width="1.1"/>
<path d="M19.4,5.9 L22.7,9.2 L19.4,12.5 L16.1,9.2 Z" fill="none" stroke="#0000ff" stroke-width="1.7" stroke-linejoin="round"/>
<circle cx="19.2" cy="23.2" r="1.4" fill="#ff0000"/>
<text x="37.6" y="12.9" font-size="11.6" textLength="28.71" lengthAdjust="spacingAndGlyphs">TGLF</text>
<text x="37.6" y="26.6" font-size="11.6" textLength="72.87" lengthAdjust="spacingAndGlyphs">fitting model</text>
</svg></body></html>
